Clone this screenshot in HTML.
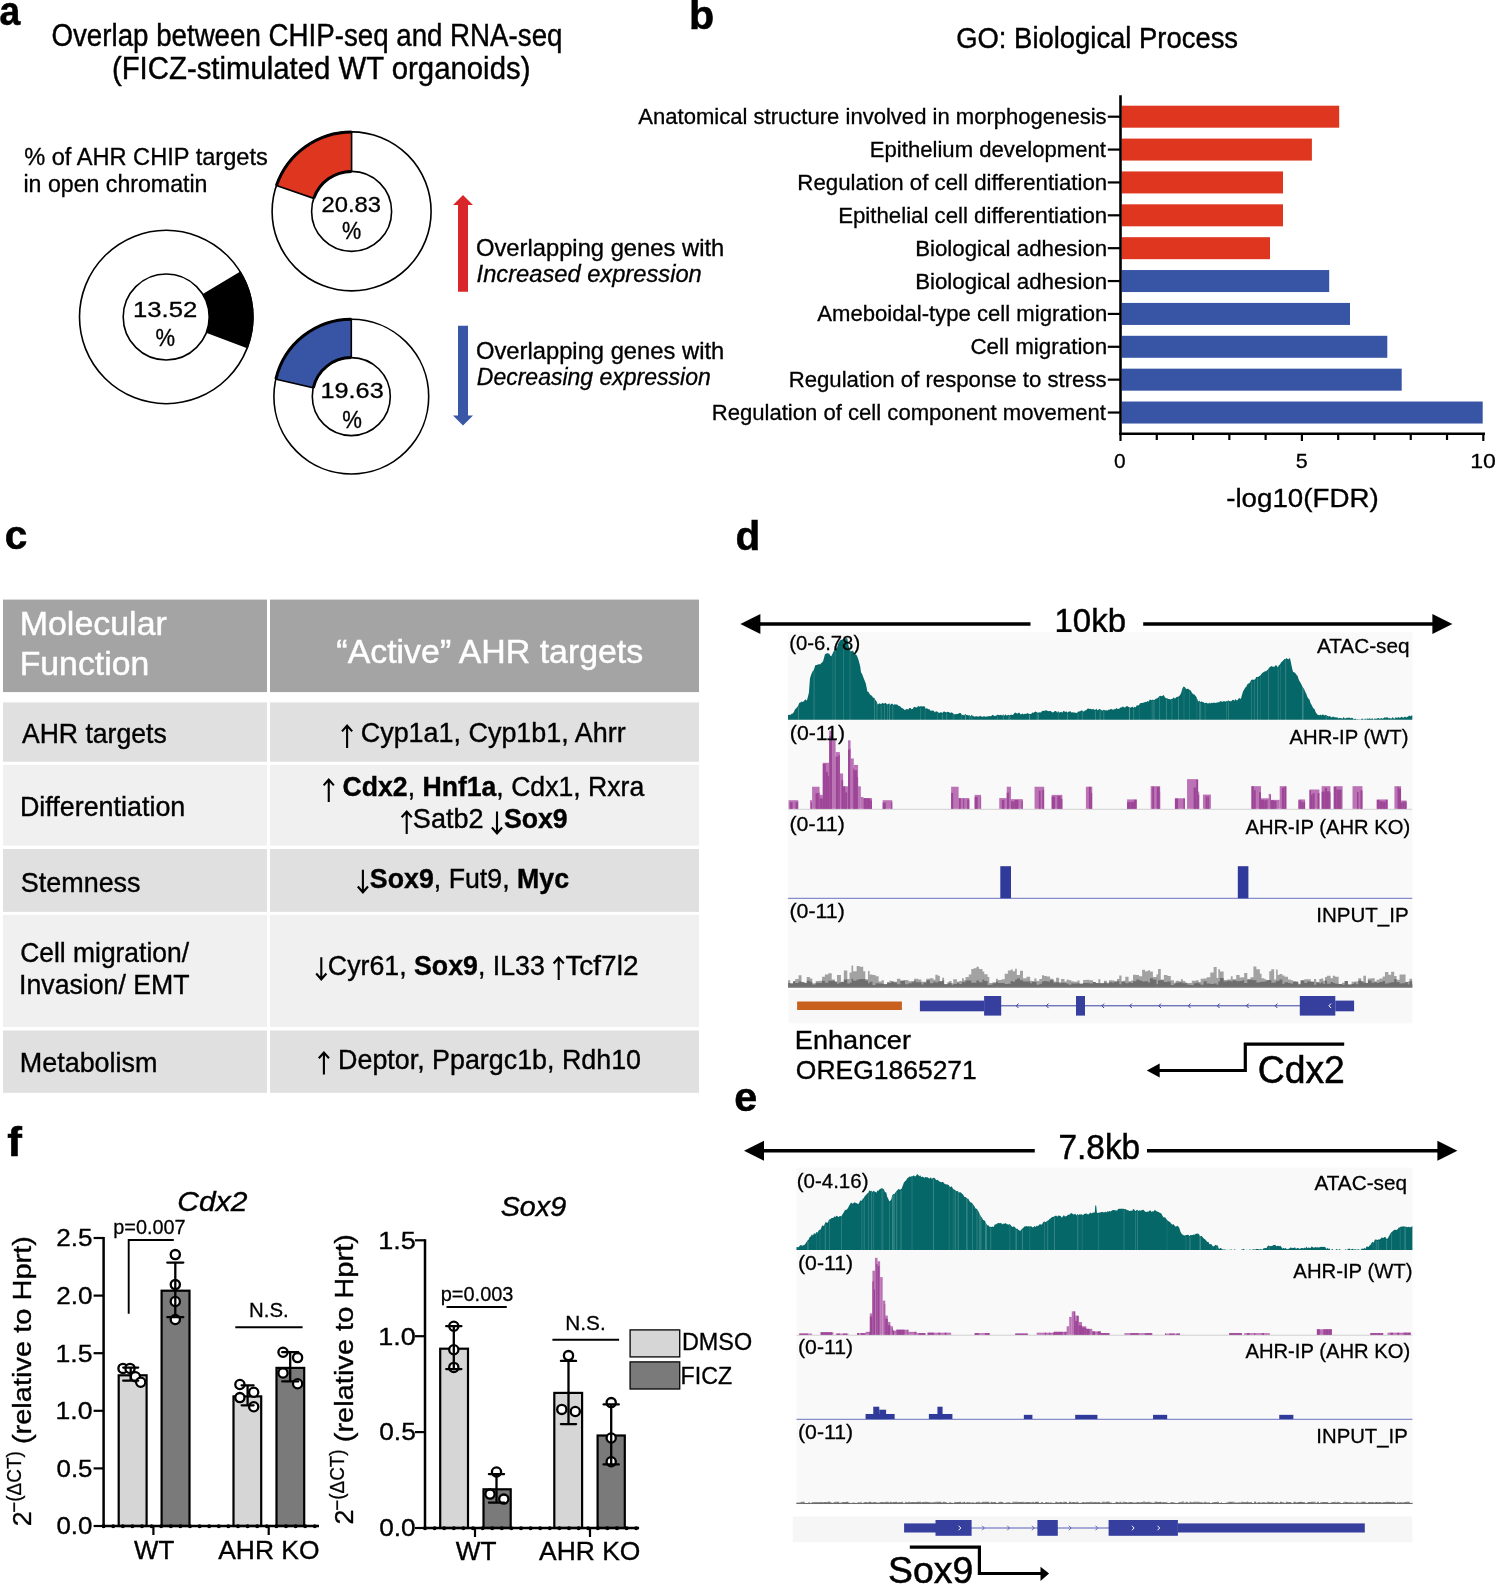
<!DOCTYPE html>
<html><head><meta charset="utf-8"><title>Figure</title>
<style>html,body{margin:0;padding:0;background:#fff;}svg{display:block;font-family:"Liberation Sans",sans-serif;will-change:transform;}</style>
</head><body>
<svg width="1496" height="1584" viewBox="0 0 1496 1584"><text x="-0.39" y="25.40" font-size="40.00" fill="#000" stroke="#000" stroke-width="0.56" textLength="20.76" lengthAdjust="spacingAndGlyphs"><tspan font-weight="bold">a</tspan></text>
<text x="51.49" y="45.90" font-size="30.80" fill="#000" stroke="#000" stroke-width="0.43" textLength="510.98" lengthAdjust="spacingAndGlyphs"><tspan>Overlap between CHIP-seq and RNA-seq</tspan></text>
<text x="111.93" y="78.90" font-size="30.80" fill="#000" stroke="#000" stroke-width="0.43" textLength="418.48" lengthAdjust="spacingAndGlyphs"><tspan>(FICZ-stimulated WT organoids)</tspan></text>
<text x="24.16" y="165.00" font-size="24.60" fill="#000" stroke="#000" stroke-width="0.34" textLength="243.68" lengthAdjust="spacingAndGlyphs"><tspan>% of AHR CHIP targets</tspan></text>
<text x="23.45" y="191.70" font-size="24.60" fill="#000" stroke="#000" stroke-width="0.34" textLength="184.05" lengthAdjust="spacingAndGlyphs"><tspan>in open chromatin</tspan></text>
<circle cx="166.20" cy="317.00" r="86.70" fill="#fff" stroke="#000" stroke-width="1.6"/><path d="M240.52 272.35 A86.70 86.70 0 0 1 247.41 347.36 L206.48 332.06 A43.00 43.00 0 0 0 203.06 294.85 Z" fill="#000" stroke="#000" stroke-width="1.60" stroke-linejoin="miter"/><circle cx="166.20" cy="317.00" r="43.00" fill="#fff" stroke="#000" stroke-width="1.6"/>
<circle cx="351.60" cy="211.40" r="79.50" fill="#fff" stroke="#000" stroke-width="1.6"/><path d="M276.43 185.52 A79.50 79.50 0 0 1 351.60 131.90 L351.60 171.40 A40.00 40.00 0 0 0 313.78 198.38 Z" fill="#df3620" stroke="#000" stroke-width="1.60" stroke-linejoin="miter"/><circle cx="351.60" cy="211.40" r="40.00" fill="#fff" stroke="#000" stroke-width="1.6"/><path d="M276.43 185.52 A79.50 79.50 0 0 1 351.60 131.90" fill="none" stroke="#000" stroke-width="3.00"/><path d="M313.78 198.38 A40.00 40.00 0 0 1 351.60 171.40" fill="none" stroke="#000" stroke-width="3.00"/>
<circle cx="351.30" cy="396.60" r="77.40" fill="#fff" stroke="#000" stroke-width="1.6"/><path d="M275.88 379.19 A77.40 77.40 0 0 1 351.30 319.20 L351.30 357.60 A39.00 39.00 0 0 0 313.30 387.83 Z" fill="#3754a5" stroke="#000" stroke-width="1.60" stroke-linejoin="miter"/><circle cx="351.30" cy="396.60" r="39.00" fill="#fff" stroke="#000" stroke-width="1.6"/><path d="M275.88 379.19 A77.40 77.40 0 0 1 351.30 319.20" fill="none" stroke="#000" stroke-width="3.00"/><path d="M313.30 387.83 A39.00 39.00 0 0 1 351.30 357.60" fill="none" stroke="#000" stroke-width="3.00"/>
<text x="133.04" y="317.00" font-size="22.00" fill="#000" stroke="#000" stroke-width="0.31" textLength="64.25" lengthAdjust="spacingAndGlyphs"><tspan>13.52</tspan></text>
<text x="155.47" y="346.20" font-size="24.50" fill="#000" stroke="#000" stroke-width="0.34" textLength="19.57" lengthAdjust="spacingAndGlyphs"><tspan>%</tspan></text>
<text x="321.55" y="212.20" font-size="22.00" fill="#000" stroke="#000" stroke-width="0.31" textLength="59.49" lengthAdjust="spacingAndGlyphs"><tspan>20.83</tspan></text>
<text x="341.93" y="238.70" font-size="24.50" fill="#000" stroke="#000" stroke-width="0.34" textLength="19.24" lengthAdjust="spacingAndGlyphs"><tspan>%</tspan></text>
<text x="320.48" y="398.30" font-size="22.00" fill="#000" stroke="#000" stroke-width="0.31" textLength="63.24" lengthAdjust="spacingAndGlyphs"><tspan>19.63</tspan></text>
<text x="342.31" y="427.50" font-size="24.50" fill="#000" stroke="#000" stroke-width="0.34" textLength="19.68" lengthAdjust="spacingAndGlyphs"><tspan>%</tspan></text>
<path d="M458 291.7 V205 H453 L463 195 L473 205 H468 V291.7 Z" fill="#d8262b"/>
<path d="M458 325.8 V415.6 H453 L463 425.6 L473 415.6 H468 V325.8 Z" fill="#3a56a6"/>
<text x="475.97" y="255.50" font-size="23.70" fill="#000" stroke="#000" stroke-width="0.33" textLength="248.27" lengthAdjust="spacingAndGlyphs"><tspan>Overlapping genes with</tspan></text>
<text x="476.56" y="281.80" font-size="23.70" fill="#000" stroke="#000" stroke-width="0.33" textLength="225.21" lengthAdjust="spacingAndGlyphs"><tspan font-style="italic">Increased expression</tspan></text>
<text x="475.97" y="358.50" font-size="23.70" fill="#000" stroke="#000" stroke-width="0.33" textLength="248.27" lengthAdjust="spacingAndGlyphs"><tspan>Overlapping genes with</tspan></text>
<text x="476.79" y="385.20" font-size="23.70" fill="#000" stroke="#000" stroke-width="0.33" textLength="233.95" lengthAdjust="spacingAndGlyphs"><tspan font-style="italic">Decreasing expression</tspan></text>
<text x="688.98" y="28.70" font-size="40.00" fill="#000" stroke="#000" stroke-width="0.56" textLength="25.21" lengthAdjust="spacingAndGlyphs"><tspan font-weight="bold">b</tspan></text>
<text x="956.22" y="48.20" font-size="29.80" fill="#000" stroke="#000" stroke-width="0.42" textLength="281.87" lengthAdjust="spacingAndGlyphs"><tspan>GO: Biological Process</tspan></text>
<rect x="1121.70" y="105.70" width="217.50" height="22" fill="#df3620"/>
<line x1="1107.8" y1="116.70" x2="1120.50" y2="116.70" stroke="#000" stroke-width="2.2"/>
<text x="638.36" y="124.20" font-size="21.60" fill="#000" stroke="#000" stroke-width="0.30" textLength="468.24" lengthAdjust="spacingAndGlyphs"><tspan>Anatomical structure involved in morphogenesis</tspan></text>
<rect x="1121.70" y="138.57" width="190.20" height="22" fill="#df3620"/>
<line x1="1107.8" y1="149.57" x2="1120.50" y2="149.57" stroke="#000" stroke-width="2.2"/>
<text x="869.78" y="157.07" font-size="21.60" fill="#000" stroke="#000" stroke-width="0.30" textLength="236.18" lengthAdjust="spacingAndGlyphs"><tspan>Epithelium development</tspan></text>
<rect x="1121.70" y="171.44" width="161.30" height="22" fill="#df3620"/>
<line x1="1107.8" y1="182.44" x2="1120.50" y2="182.44" stroke="#000" stroke-width="2.2"/>
<text x="797.38" y="189.94" font-size="21.60" fill="#000" stroke="#000" stroke-width="0.30" textLength="309.86" lengthAdjust="spacingAndGlyphs"><tspan>Regulation of cell differentiation</tspan></text>
<rect x="1121.70" y="204.31" width="161.30" height="22" fill="#df3620"/>
<line x1="1107.8" y1="215.31" x2="1120.50" y2="215.31" stroke="#000" stroke-width="2.2"/>
<text x="838.18" y="222.81" font-size="21.60" fill="#000" stroke="#000" stroke-width="0.30" textLength="269.06" lengthAdjust="spacingAndGlyphs"><tspan>Epithelial cell differentiation</tspan></text>
<rect x="1121.70" y="237.18" width="148.30" height="22" fill="#df3620"/>
<line x1="1107.8" y1="248.18" x2="1120.50" y2="248.18" stroke="#000" stroke-width="2.2"/>
<text x="915.17" y="255.68" font-size="21.60" fill="#000" stroke="#000" stroke-width="0.30" textLength="192.08" lengthAdjust="spacingAndGlyphs"><tspan>Biological adhesion</tspan></text>
<rect x="1121.70" y="270.05" width="207.50" height="22" fill="#3754a5"/>
<line x1="1107.8" y1="281.05" x2="1120.50" y2="281.05" stroke="#000" stroke-width="2.2"/>
<text x="915.17" y="288.55" font-size="21.60" fill="#000" stroke="#000" stroke-width="0.30" textLength="192.08" lengthAdjust="spacingAndGlyphs"><tspan>Biological adhesion</tspan></text>
<rect x="1121.70" y="302.92" width="228.30" height="22" fill="#3754a5"/>
<line x1="1107.8" y1="313.92" x2="1120.50" y2="313.92" stroke="#000" stroke-width="2.2"/>
<text x="817.26" y="321.42" font-size="21.60" fill="#000" stroke="#000" stroke-width="0.30" textLength="289.98" lengthAdjust="spacingAndGlyphs"><tspan>Ameboidal-type cell migration</tspan></text>
<rect x="1121.70" y="335.79" width="265.60" height="22" fill="#3754a5"/>
<line x1="1107.8" y1="346.79" x2="1120.50" y2="346.79" stroke="#000" stroke-width="2.2"/>
<text x="970.46" y="354.29" font-size="21.60" fill="#000" stroke="#000" stroke-width="0.30" textLength="136.79" lengthAdjust="spacingAndGlyphs"><tspan>Cell migration</tspan></text>
<rect x="1121.70" y="368.66" width="280.00" height="22" fill="#3754a5"/>
<line x1="1107.8" y1="379.66" x2="1120.50" y2="379.66" stroke="#000" stroke-width="2.2"/>
<text x="788.68" y="387.16" font-size="21.60" fill="#000" stroke="#000" stroke-width="0.30" textLength="317.92" lengthAdjust="spacingAndGlyphs"><tspan>Regulation of response to stress</tspan></text>
<rect x="1121.70" y="401.53" width="361.00" height="22" fill="#3754a5"/>
<line x1="1107.8" y1="412.53" x2="1120.50" y2="412.53" stroke="#000" stroke-width="2.2"/>
<text x="711.69" y="420.03" font-size="21.60" fill="#000" stroke="#000" stroke-width="0.30" textLength="394.27" lengthAdjust="spacingAndGlyphs"><tspan>Regulation of cell component movement</tspan></text>
<line x1="1120.50" y1="95.3" x2="1120.50" y2="435" stroke="#000" stroke-width="2.6"/>
<line x1="1119.20" y1="433.8" x2="1485" y2="433.8" stroke="#000" stroke-width="2.6"/>
<line x1="1120.50" y1="433.8" x2="1120.50" y2="441.00" stroke="#000" stroke-width="2.2"/>
<line x1="1156.78" y1="433.8" x2="1156.78" y2="440.00" stroke="#000" stroke-width="2.2"/>
<line x1="1193.06" y1="433.8" x2="1193.06" y2="440.00" stroke="#000" stroke-width="2.2"/>
<line x1="1229.34" y1="433.8" x2="1229.34" y2="440.00" stroke="#000" stroke-width="2.2"/>
<line x1="1265.62" y1="433.8" x2="1265.62" y2="440.00" stroke="#000" stroke-width="2.2"/>
<line x1="1301.90" y1="433.8" x2="1301.90" y2="441.00" stroke="#000" stroke-width="2.2"/>
<line x1="1338.18" y1="433.8" x2="1338.18" y2="440.00" stroke="#000" stroke-width="2.2"/>
<line x1="1374.46" y1="433.8" x2="1374.46" y2="440.00" stroke="#000" stroke-width="2.2"/>
<line x1="1410.74" y1="433.8" x2="1410.74" y2="440.00" stroke="#000" stroke-width="2.2"/>
<line x1="1447.02" y1="433.8" x2="1447.02" y2="440.00" stroke="#000" stroke-width="2.2"/>
<line x1="1483.30" y1="433.8" x2="1483.30" y2="441.00" stroke="#000" stroke-width="2.2"/>
<text x="1113.98" y="467.50" font-size="21.00" fill="#000" stroke="#000" stroke-width="0.29" textLength="11.63" lengthAdjust="spacingAndGlyphs"><tspan>0</tspan></text>
<text x="1295.74" y="467.50" font-size="21.00" fill="#000" stroke="#000" stroke-width="0.29" textLength="11.96" lengthAdjust="spacingAndGlyphs"><tspan>5</tspan></text>
<text x="1470.24" y="467.50" font-size="21.00" fill="#000" stroke="#000" stroke-width="0.29" textLength="25.66" lengthAdjust="spacingAndGlyphs"><tspan>10</tspan></text>
<text x="1226.17" y="507.20" font-size="25.20" fill="#000" stroke="#000" stroke-width="0.35" textLength="152.55" lengthAdjust="spacingAndGlyphs"><tspan>-log10(FDR)</tspan></text>
<text x="4.71" y="549.30" font-size="40.00" fill="#000" stroke="#000" stroke-width="0.56" textLength="22.57" lengthAdjust="spacingAndGlyphs"><tspan font-weight="bold">c</tspan></text>
<rect x="3" y="599.60" width="264" height="92.50" fill="#a4a4a4"/>
<rect x="270" y="599.60" width="429" height="92.50" fill="#a4a4a4"/>
<rect x="3" y="702.40" width="264" height="59.40" fill="#e0e0e0"/>
<rect x="270" y="702.40" width="429" height="59.40" fill="#e0e0e0"/>
<rect x="3" y="764.90" width="264" height="80.70" fill="#f0f0f0"/>
<rect x="270" y="764.90" width="429" height="80.70" fill="#f0f0f0"/>
<rect x="3" y="849.00" width="264" height="62.90" fill="#e0e0e0"/>
<rect x="270" y="849.00" width="429" height="62.90" fill="#e0e0e0"/>
<rect x="3" y="914.90" width="264" height="112.00" fill="#f0f0f0"/>
<rect x="270" y="914.90" width="429" height="112.00" fill="#f0f0f0"/>
<rect x="3" y="1030.50" width="264" height="62.30" fill="#e0e0e0"/>
<rect x="270" y="1030.50" width="429" height="62.30" fill="#e0e0e0"/>
<text x="19.72" y="635.00" font-size="33.00" fill="#fff" stroke="#fff" stroke-width="0.46" textLength="147.10" lengthAdjust="spacingAndGlyphs"><tspan>Molecular</tspan></text>
<text x="19.73" y="675.40" font-size="33.00" fill="#fff" stroke="#fff" stroke-width="0.46" textLength="129.46" lengthAdjust="spacingAndGlyphs"><tspan>Function</tspan></text>
<text x="336.37" y="662.90" font-size="33.00" fill="#fff" stroke="#fff" stroke-width="0.46" textLength="306.85" lengthAdjust="spacingAndGlyphs"><tspan>“Active” AHR targets</tspan></text>
<text x="21.95" y="742.50" font-size="27.80" fill="#000" stroke="#000" stroke-width="0.39" textLength="144.76" lengthAdjust="spacingAndGlyphs"><tspan>AHR targets</tspan></text>
<text x="19.90" y="816.30" font-size="27.80" fill="#000" stroke="#000" stroke-width="0.39" textLength="165.44" lengthAdjust="spacingAndGlyphs"><tspan>Differentiation</tspan></text>
<text x="20.78" y="892.00" font-size="27.80" fill="#000" stroke="#000" stroke-width="0.39" textLength="119.80" lengthAdjust="spacingAndGlyphs"><tspan>Stemness</tspan></text>
<text x="20.16" y="961.80" font-size="27.80" fill="#000" stroke="#000" stroke-width="0.39" textLength="168.84" lengthAdjust="spacingAndGlyphs"><tspan>Cell migration/</tspan></text>
<text x="19.04" y="994.00" font-size="27.80" fill="#000" stroke="#000" stroke-width="0.39" textLength="170.58" lengthAdjust="spacingAndGlyphs"><tspan>Invasion/ EMT</tspan></text>
<text x="19.79" y="1072.40" font-size="27.80" fill="#000" stroke="#000" stroke-width="0.39" textLength="137.68" lengthAdjust="spacingAndGlyphs"><tspan>Metabolism</tspan></text>
<path d="M347.10 747.90 V725.80 M342.00 731.40 L347.10 725.60 L352.20 731.40" fill="none" stroke="#000" stroke-width="2.10" stroke-linejoin="miter"/>
<text x="360.74" y="742.40" font-size="27.80" fill="#000" stroke="#000" stroke-width="0.39" textLength="264.90" lengthAdjust="spacingAndGlyphs"><tspan>Cyp1a1, Cyp1b1, Ahrr</tspan></text>
<path d="M328.75 802.00 V779.80 M323.65 785.40 L328.75 779.60 L333.85 785.40" fill="none" stroke="#000" stroke-width="2.10" stroke-linejoin="miter"/>
<text x="342.61" y="796.40" font-size="27.80" fill="#000" stroke="#000" stroke-width="0.39" textLength="301.59" lengthAdjust="spacingAndGlyphs"><tspan font-weight="bold">Cdx2</tspan><tspan>, </tspan><tspan font-weight="bold">Hnf1a</tspan><tspan>, Cdx1, Rxra</tspan></text>
<path d="M406.70 834.10 V811.70 M401.60 817.30 L406.70 811.50 L411.80 817.30" fill="none" stroke="#000" stroke-width="2.10" stroke-linejoin="miter"/>
<text x="412.87" y="828.30" font-size="27.80" fill="#000" stroke="#000" stroke-width="0.39" textLength="70.69" lengthAdjust="spacingAndGlyphs"><tspan>Satb2</tspan></text>
<path d="M497.00 811.40 V833.10 M491.90 827.50 L497.00 833.30 L502.10 827.50" fill="none" stroke="#000" stroke-width="2.10" stroke-linejoin="miter"/>
<text x="503.93" y="828.30" font-size="27.80" fill="#000" stroke="#000" stroke-width="0.39" textLength="63.76" lengthAdjust="spacingAndGlyphs"><tspan font-weight="bold">Sox9</tspan></text>
<path d="M362.90 869.70 V892.10 M357.80 886.50 L362.90 892.30 L368.00 886.50" fill="none" stroke="#000" stroke-width="2.10" stroke-linejoin="miter"/>
<text x="369.83" y="887.60" font-size="27.80" fill="#000" stroke="#000" stroke-width="0.39" textLength="199.25" lengthAdjust="spacingAndGlyphs"><tspan font-weight="bold">Sox9</tspan><tspan>, Fut9, </tspan><tspan font-weight="bold">Myc</tspan></text>
<path d="M321.30 957.20 V979.10 M316.20 973.50 L321.30 979.30 L326.40 973.50" fill="none" stroke="#000" stroke-width="2.10" stroke-linejoin="miter"/>
<text x="327.84" y="974.80" font-size="27.80" fill="#000" stroke="#000" stroke-width="0.39" textLength="216.93" lengthAdjust="spacingAndGlyphs"><tspan>Cyr61, </tspan><tspan font-weight="bold">Sox9</tspan><tspan>, IL33</tspan></text>
<path d="M558.70 980.10 V957.90 M553.60 963.50 L558.70 957.70 L563.80 963.50" fill="none" stroke="#000" stroke-width="2.10" stroke-linejoin="miter"/>
<text x="565.40" y="974.80" font-size="27.80" fill="#000" stroke="#000" stroke-width="0.39" textLength="73.05" lengthAdjust="spacingAndGlyphs"><tspan>Tcf7l2</tspan></text>
<path d="M323.90 1074.60 V1052.70 M318.80 1058.30 L323.90 1052.50 L329.00 1058.30" fill="none" stroke="#000" stroke-width="2.10" stroke-linejoin="miter"/>
<text x="338.11" y="1069.10" font-size="27.80" fill="#000" stroke="#000" stroke-width="0.39" textLength="302.93" lengthAdjust="spacingAndGlyphs"><tspan>Deptor, Ppargc1b, Rdh10</tspan></text>
<text x="735.44" y="549.60" font-size="40.00" fill="#000" stroke="#000" stroke-width="0.56" textLength="24.73" lengthAdjust="spacingAndGlyphs"><tspan font-weight="bold">d</tspan></text>
<line x1="759.40" y1="624.00" x2="1030.50" y2="624.00" stroke="#000" stroke-width="3.50"/><path d="M740.40 624.00 L760.40 614.00 L760.40 634.00 Z" fill="#000"/>
<line x1="1143.20" y1="624.00" x2="1433.40" y2="624.00" stroke="#000" stroke-width="3.50"/><path d="M1452.40 624.00 L1432.40 614.00 L1432.40 634.00 Z" fill="#000"/>
<text x="1054.49" y="632.00" font-size="33.80" fill="#000" stroke="#000" stroke-width="0.47" textLength="71.50" lengthAdjust="spacingAndGlyphs"><tspan>10kb</tspan></text>
<rect x="788.1" y="632.2" width="624.2" height="355" fill="#f9f9f9"/>
<path d="M788.00 719.80 L788.00 714.90 L789.20 714.72 L790.40 715.05 L791.60 713.73 L792.80 713.42 L793.87 711.97 L794.93 709.57 L796.00 708.62 L797.07 707.26 L798.13 705.99 L799.20 702.99 L800.40 702.61 L801.60 701.38 L802.80 702.02 L804.00 700.99 L805.40 699.28 L806.80 700.76 L807.85 697.08 L808.90 692.81 L810.00 678.33 L811.30 674.21 L812.50 671.53 L813.70 670.16 L815.30 665.22 L816.50 665.08 L817.70 664.78 L818.90 663.96 L820.10 664.43 L821.17 663.05 L822.23 662.52 L823.30 660.54 L824.90 654.38 L826.10 653.50 L827.30 653.22 L828.30 653.41 L829.30 653.66 L830.30 655.70 L831.30 656.29 L832.50 653.78 L833.70 651.32 L834.77 649.70 L835.83 648.69 L836.90 647.98 L838.10 643.94 L839.30 641.73 L840.90 639.40 L841.97 640.03 L843.03 638.84 L844.10 639.72 L845.17 639.63 L846.23 638.07 L847.30 638.62 L848.50 645.42 L849.70 649.94 L850.95 651.41 L852.20 650.69 L853.20 651.05 L854.20 653.16 L855.20 654.46 L856.20 654.44 L857.40 656.87 L858.60 660.17 L860.20 666.23 L861.00 672.22 L862.20 674.14 L863.40 677.59 L864.60 680.50 L865.80 683.62 L867.40 691.49 L868.60 691.91 L869.80 694.32 L870.87 695.16 L871.93 695.71 L873.00 697.86 L874.20 697.86 L875.40 700.09 L876.60 701.43 L877.80 704.44 L878.80 703.63 L879.80 703.34 L880.80 704.34 L881.80 703.61 L882.87 702.74 L883.93 704.04 L885.00 702.82 L886.07 703.32 L887.13 704.38 L888.20 704.08 L889.28 703.13 L890.37 705.05 L891.45 703.63 L892.53 703.85 L893.62 705.01 L894.70 704.26 L895.76 704.57 L896.82 704.51 L897.88 704.92 L898.94 706.29 L900.00 705.99 L901.30 707.67 L902.60 708.18 L903.90 709.31 L905.00 710.19 L906.10 709.11 L907.20 709.16 L908.30 709.62 L909.40 708.12 L910.50 707.94 L911.60 709.32 L912.70 708.77 L913.80 707.27 L914.90 706.79 L916.00 707.53 L917.10 707.57 L918.20 705.72 L919.30 706.86 L920.40 706.36 L921.49 706.28 L922.58 706.39 L923.66 706.23 L924.75 706.58 L925.84 708.90 L926.92 707.93 L928.01 709.33 L929.10 708.91 L930.26 710.57 L931.42 710.63 L932.58 710.55 L933.74 710.83 L934.90 712.44 L935.95 711.19 L936.99 711.56 L938.04 712.28 L939.08 712.92 L940.13 712.50 L941.18 711.88 L942.22 713.21 L943.27 711.84 L944.32 711.52 L945.36 712.08 L946.41 712.48 L947.45 711.77 L948.50 712.05 L949.54 712.56 L950.58 713.09 L951.62 712.33 L952.65 712.92 L953.69 714.10 L954.73 714.40 L955.77 713.88 L956.81 714.07 L957.85 713.98 L958.88 713.21 L959.92 713.12 L960.96 713.21 L962.00 715.12 L963.06 714.84 L964.13 715.50 L965.19 713.75 L966.25 715.12 L967.32 714.95 L968.38 715.58 L969.45 714.89 L970.51 716.39 L971.57 714.68 L972.64 715.76 L973.70 716.27 L974.73 716.63 L975.77 716.33 L976.80 716.29 L977.83 716.49 L978.87 716.76 L979.90 715.66 L980.93 716.36 L981.97 716.82 L983.00 716.78 L984.03 715.90 L985.07 716.67 L986.10 716.85 L987.13 716.29 L988.17 716.42 L989.20 715.96 L990.30 716.15 L991.40 715.99 L992.50 714.72 L993.60 715.62 L994.70 716.12 L995.80 715.67 L996.90 715.16 L997.95 714.54 L999.01 715.30 L1000.06 715.05 L1001.12 714.84 L1002.17 715.69 L1003.23 714.25 L1004.28 715.65 L1005.34 714.27 L1006.39 715.48 L1007.45 715.30 L1008.50 714.86 L1009.61 715.50 L1010.73 714.79 L1011.84 714.73 L1012.96 715.04 L1014.07 713.41 L1015.19 712.62 L1016.30 712.90 L1017.38 713.72 L1018.46 712.84 L1019.53 712.84 L1020.61 714.38 L1021.69 713.95 L1022.77 713.58 L1023.84 714.55 L1024.92 713.49 L1026.00 714.23 L1027.08 713.12 L1028.16 713.41 L1029.23 713.98 L1030.31 714.02 L1031.39 713.77 L1032.47 712.60 L1033.54 712.82 L1034.62 712.11 L1035.70 711.57 L1036.75 712.16 L1037.81 712.70 L1038.86 712.59 L1039.92 712.18 L1040.97 712.52 L1042.03 711.04 L1043.08 710.68 L1044.14 711.11 L1045.19 710.62 L1046.25 710.36 L1047.30 710.63 L1048.41 711.21 L1049.53 711.10 L1050.64 710.90 L1051.76 712.11 L1052.87 712.55 L1053.99 711.65 L1055.10 711.05 L1056.12 710.98 L1057.14 712.69 L1058.16 711.05 L1059.18 712.40 L1060.21 712.15 L1061.23 711.64 L1062.25 712.63 L1063.27 711.11 L1064.29 711.36 L1065.31 712.02 L1066.33 711.18 L1067.35 712.81 L1068.37 711.65 L1069.39 711.48 L1070.42 711.31 L1071.44 712.50 L1072.46 712.15 L1073.48 712.54 L1074.50 712.61 L1075.55 712.78 L1076.61 712.94 L1077.66 712.26 L1078.72 711.15 L1079.77 711.57 L1080.83 710.84 L1081.88 710.37 L1082.94 711.15 L1083.99 711.50 L1085.05 710.29 L1086.10 710.34 L1088.00 708.19 L1089.03 708.99 L1090.07 708.74 L1091.10 709.03 L1092.13 709.41 L1093.17 708.79 L1094.20 709.68 L1095.23 710.01 L1096.27 708.47 L1097.30 710.27 L1098.33 709.94 L1099.37 708.86 L1100.40 709.61 L1101.43 710.05 L1102.47 710.72 L1103.50 709.75 L1104.56 710.03 L1105.63 710.54 L1106.69 710.27 L1107.75 710.45 L1108.82 709.38 L1109.88 709.65 L1110.95 708.65 L1112.01 709.57 L1113.07 709.65 L1114.14 709.19 L1115.20 709.24 L1116.30 707.90 L1117.40 708.94 L1118.50 708.78 L1119.60 708.44 L1120.70 707.23 L1121.80 707.41 L1122.90 706.14 L1123.95 707.41 L1125.01 707.39 L1126.06 706.47 L1127.12 706.03 L1128.17 706.84 L1129.23 707.15 L1130.28 707.67 L1131.34 707.20 L1132.39 706.38 L1133.45 708.03 L1134.50 706.63 L1135.58 707.46 L1136.66 705.56 L1137.73 705.24 L1138.81 705.50 L1139.89 703.56 L1140.97 702.93 L1142.04 703.02 L1143.12 702.79 L1144.20 702.38 L1145.28 701.86 L1146.36 702.15 L1147.43 701.02 L1148.51 701.71 L1149.59 699.76 L1150.67 699.81 L1151.74 700.20 L1152.82 699.50 L1153.90 700.16 L1154.99 699.38 L1156.08 698.55 L1157.16 698.59 L1158.25 697.42 L1159.34 696.32 L1160.42 695.86 L1161.51 696.19 L1162.60 695.70 L1163.73 695.12 L1164.87 697.20 L1166.00 698.24 L1167.13 698.15 L1168.27 699.05 L1169.40 699.10 L1170.50 699.41 L1171.60 698.97 L1172.70 698.81 L1173.80 697.29 L1174.90 698.81 L1176.00 697.53 L1177.00 696.75 L1178.00 697.00 L1179.00 695.98 L1180.00 695.28 L1181.20 692.75 L1182.40 688.57 L1183.60 686.58 L1184.70 686.93 L1185.80 688.61 L1186.90 689.15 L1188.00 688.44 L1189.07 689.78 L1190.13 690.02 L1191.20 691.57 L1192.27 693.26 L1193.33 694.37 L1194.40 694.45 L1195.40 695.73 L1196.40 697.08 L1197.40 699.54 L1198.40 701.75 L1199.43 700.56 L1200.45 702.26 L1201.47 701.15 L1202.50 701.89 L1203.62 702.13 L1204.74 703.23 L1205.86 702.68 L1206.98 702.93 L1208.10 703.64 L1209.10 702.56 L1210.10 703.76 L1211.10 702.50 L1212.10 703.22 L1213.10 702.65 L1214.10 702.50 L1215.10 703.11 L1216.10 702.87 L1217.10 702.50 L1218.10 702.33 L1219.10 702.31 L1220.10 701.32 L1221.10 701.16 L1222.10 701.76 L1223.10 701.53 L1224.10 701.06 L1225.13 701.63 L1226.16 701.08 L1227.19 701.50 L1228.21 700.18 L1229.24 701.12 L1230.27 701.19 L1231.30 701.31 L1232.37 699.91 L1233.43 699.69 L1234.50 700.68 L1235.57 699.05 L1236.63 700.39 L1237.70 699.94 L1238.77 698.21 L1239.83 698.20 L1240.90 698.95 L1242.00 694.82 L1243.10 691.29 L1244.20 689.56 L1245.27 687.41 L1246.33 686.81 L1247.40 684.15 L1248.60 683.51 L1249.80 682.87 L1251.00 680.34 L1252.20 679.50 L1253.20 679.86 L1254.20 679.72 L1255.20 679.24 L1256.20 676.93 L1257.20 677.11 L1258.20 677.02 L1259.20 675.91 L1260.20 675.67 L1261.40 673.88 L1262.60 672.84 L1263.80 672.11 L1265.00 671.17 L1266.03 671.29 L1267.06 670.30 L1268.09 669.49 L1269.11 667.74 L1270.14 666.90 L1271.17 666.02 L1272.20 666.38 L1273.32 666.84 L1274.44 666.87 L1275.56 665.37 L1276.68 665.46 L1277.80 667.40 L1278.88 665.21 L1279.97 664.60 L1281.05 662.50 L1282.13 661.57 L1283.22 660.45 L1284.30 659.06 L1285.42 659.24 L1286.54 657.91 L1287.66 659.12 L1288.78 659.25 L1289.90 657.76 L1290.97 662.87 L1292.03 668.01 L1293.10 671.91 L1294.17 672.29 L1295.23 673.03 L1296.30 674.53 L1297.60 675.90 L1298.90 680.02 L1300.20 682.20 L1301.20 683.99 L1302.20 686.28 L1303.20 687.80 L1304.20 689.33 L1305.20 691.70 L1306.26 693.64 L1307.31 696.72 L1308.37 698.50 L1309.43 699.53 L1310.49 702.97 L1311.54 704.76 L1312.60 706.96 L1313.60 708.61 L1314.60 709.37 L1315.60 711.93 L1316.60 713.48 L1317.60 714.69 L1318.64 715.00 L1319.67 715.17 L1320.71 714.62 L1321.75 715.42 L1322.78 714.28 L1323.82 714.99 L1324.86 715.42 L1325.89 714.67 L1326.93 715.53 L1327.97 716.26 L1329.01 716.40 L1330.04 715.79 L1331.08 717.38 L1332.12 716.99 L1333.15 716.50 L1334.19 717.31 L1335.23 717.30 L1336.26 717.40 L1337.30 717.28 L1338.33 718.57 L1339.36 717.93 L1340.39 718.12 L1341.42 718.31 L1342.45 718.81 L1343.47 716.97 L1344.50 718.23 L1345.53 718.54 L1346.56 717.65 L1347.59 718.01 L1348.62 717.38 L1349.65 717.74 L1350.68 718.17 L1351.71 717.69 L1352.74 718.06 L1353.77 719.44 L1354.80 718.80 L1355.83 718.79 L1356.85 719.78 L1357.88 719.05 L1358.91 719.80 L1359.94 719.33 L1360.97 719.75 L1362.00 718.35 L1363.03 719.35 L1364.07 719.64 L1365.10 718.17 L1366.13 719.80 L1367.17 718.31 L1368.20 718.89 L1369.23 718.25 L1370.27 718.86 L1371.30 719.05 L1372.33 717.90 L1373.37 719.63 L1374.40 718.54 L1375.43 718.71 L1376.47 718.81 L1377.50 718.31 L1378.53 718.10 L1379.57 718.80 L1380.60 718.57 L1381.63 717.98 L1382.67 718.80 L1383.70 717.92 L1384.73 717.31 L1385.77 717.73 L1386.80 717.29 L1387.82 717.44 L1388.83 718.57 L1389.85 717.77 L1390.86 718.72 L1391.88 718.35 L1392.89 716.88 L1393.91 718.69 L1394.92 718.54 L1395.94 716.72 L1396.95 718.32 L1397.97 717.30 L1398.98 717.32 L1400.00 718.25 L1401.03 716.66 L1402.05 717.10 L1403.08 717.80 L1404.10 717.25 L1405.12 716.61 L1406.15 717.51 L1407.17 717.06 L1408.20 716.51 L1409.22 715.41 L1410.25 716.30 L1411.27 715.84 L1412.30 715.21 L1412.30 719.80 Z" fill="#056767"/><rect x="849.70" y="650.94" width="0.7" height="68.86" fill="#ffffff" fill-opacity="0.19"/><rect x="965.19" y="714.75" width="0.7" height="5.05" fill="#ffffff" fill-opacity="0.14"/><rect x="1279.97" y="665.60" width="0.7" height="54.20" fill="#ffffff" fill-opacity="0.15"/><rect x="1251.00" y="681.34" width="0.7" height="38.46" fill="#ffffff" fill-opacity="0.21"/><rect x="1081.88" y="711.37" width="0.7" height="8.43" fill="#ffffff" fill-opacity="0.25"/><rect x="1254.20" y="680.72" width="0.7" height="39.08" fill="#ffffff" fill-opacity="0.19"/><rect x="946.41" y="713.48" width="0.7" height="6.32" fill="#ffffff" fill-opacity="0.31"/><rect x="936.99" y="712.56" width="0.7" height="7.24" fill="#ffffff" fill-opacity="0.17"/><rect x="920.40" y="707.36" width="0.7" height="12.44" fill="#ffffff" fill-opacity="0.22"/><rect x="1133.45" y="709.03" width="0.7" height="10.77" fill="#ffffff" fill-opacity="0.28"/><rect x="1189.07" y="690.78" width="0.7" height="29.02" fill="#ffffff" fill-opacity="0.17"/><rect x="1003.23" y="715.25" width="0.7" height="4.55" fill="#ffffff" fill-opacity="0.25"/><rect x="1058.16" y="712.05" width="0.7" height="7.75" fill="#ffffff" fill-opacity="0.16"/><rect x="1067.35" y="713.81" width="0.7" height="5.99" fill="#ffffff" fill-opacity="0.22"/><rect x="1009.61" y="716.50" width="0.7" height="3.30" fill="#ffffff" fill-opacity="0.30"/><rect x="834.77" y="650.70" width="0.7" height="69.10" fill="#ffffff" fill-opacity="0.25"/><rect x="798.13" y="706.99" width="0.7" height="12.81" fill="#ffffff" fill-opacity="0.17"/><rect x="1260.20" y="676.67" width="0.7" height="43.13" fill="#ffffff" fill-opacity="0.13"/><rect x="832.50" y="654.78" width="0.7" height="65.02" fill="#ffffff" fill-opacity="0.14"/><rect x="1099.37" y="709.86" width="0.7" height="9.94" fill="#ffffff" fill-opacity="0.13"/><rect x="889.28" y="704.13" width="0.7" height="15.67" fill="#ffffff" fill-opacity="0.30"/><rect x="971.57" y="715.68" width="0.7" height="4.12" fill="#ffffff" fill-opacity="0.23"/><rect x="1204.74" y="704.23" width="0.7" height="15.57" fill="#ffffff" fill-opacity="0.22"/><rect x="1183.60" y="687.58" width="0.7" height="32.22" fill="#ffffff" fill-opacity="0.16"/><rect x="1171.60" y="699.97" width="0.7" height="19.83" fill="#ffffff" fill-opacity="0.22"/><rect x="942.22" y="714.21" width="0.7" height="5.59" fill="#ffffff" fill-opacity="0.29"/><rect x="876.60" y="702.43" width="0.7" height="17.37" fill="#ffffff" fill-opacity="0.28"/><rect x="1285.42" y="660.24" width="0.7" height="59.56" fill="#ffffff" fill-opacity="0.28"/><rect x="1029.23" y="714.98" width="0.7" height="4.82" fill="#ffffff" fill-opacity="0.21"/><rect x="1077.66" y="713.26" width="0.7" height="6.54" fill="#ffffff" fill-opacity="0.20"/><rect x="960.96" y="714.21" width="0.7" height="5.59" fill="#ffffff" fill-opacity="0.19"/><rect x="1151.74" y="701.20" width="0.7" height="18.60" fill="#ffffff" fill-opacity="0.18"/><rect x="996.90" y="716.16" width="0.7" height="3.64" fill="#ffffff" fill-opacity="0.21"/><rect x="1200.45" y="703.26" width="0.7" height="16.54" fill="#ffffff" fill-opacity="0.24"/><rect x="1302.20" y="687.28" width="0.7" height="32.52" fill="#ffffff" fill-opacity="0.30"/><rect x="880.80" y="705.34" width="0.7" height="14.46" fill="#ffffff" fill-opacity="0.23"/><rect x="1268.09" y="670.49" width="0.7" height="49.31" fill="#ffffff" fill-opacity="0.23"/><rect x="1325.89" y="715.67" width="0.7" height="4.13" fill="#ffffff" fill-opacity="0.28"/><rect x="1303.20" y="688.80" width="0.7" height="31.00" fill="#ffffff" fill-opacity="0.18"/><rect x="798.13" y="706.99" width="0.7" height="12.81" fill="#ffffff" fill-opacity="0.14"/><rect x="1029.23" y="714.98" width="0.7" height="4.82" fill="#ffffff" fill-opacity="0.30"/><rect x="883.93" y="705.04" width="0.7" height="14.76" fill="#ffffff" fill-opacity="0.26"/><rect x="1153.90" y="701.16" width="0.7" height="18.64" fill="#ffffff" fill-opacity="0.18"/><rect x="952.65" y="713.92" width="0.7" height="5.88" fill="#ffffff" fill-opacity="0.16"/><rect x="1152.82" y="700.50" width="0.7" height="19.30" fill="#ffffff" fill-opacity="0.19"/><rect x="924.75" y="707.58" width="0.7" height="12.22" fill="#ffffff" fill-opacity="0.18"/><rect x="1277.80" y="668.40" width="0.7" height="51.40" fill="#ffffff" fill-opacity="0.23"/><rect x="1100.40" y="710.61" width="0.7" height="9.19" fill="#ffffff" fill-opacity="0.21"/><rect x="1129.23" y="708.15" width="0.7" height="11.65" fill="#ffffff" fill-opacity="0.21"/><rect x="1037.81" y="713.70" width="0.7" height="6.10" fill="#ffffff" fill-opacity="0.20"/><rect x="1067.35" y="713.81" width="0.7" height="5.99" fill="#ffffff" fill-opacity="0.14"/><rect x="1196.40" y="698.08" width="0.7" height="21.72" fill="#ffffff" fill-opacity="0.12"/><rect x="1228.21" y="701.18" width="0.7" height="18.62" fill="#ffffff" fill-opacity="0.24"/><rect x="1008.50" y="715.86" width="0.7" height="3.94" fill="#ffffff" fill-opacity="0.27"/><rect x="1199.43" y="701.56" width="0.7" height="18.24" fill="#ffffff" fill-opacity="0.28"/><rect x="965.19" y="714.75" width="0.7" height="5.05" fill="#ffffff" fill-opacity="0.29"/><rect x="892.53" y="704.85" width="0.7" height="14.95" fill="#ffffff" fill-opacity="0.27"/><rect x="1103.50" y="710.75" width="0.7" height="9.05" fill="#ffffff" fill-opacity="0.28"/><rect x="1037.81" y="713.70" width="0.7" height="6.10" fill="#ffffff" fill-opacity="0.22"/><rect x="969.45" y="715.89" width="0.7" height="3.91" fill="#ffffff" fill-opacity="0.23"/><rect x="813.70" y="671.16" width="0.7" height="48.64" fill="#ffffff" fill-opacity="0.25"/><rect x="1257.20" y="678.11" width="0.7" height="41.69" fill="#ffffff" fill-opacity="0.13"/><rect x="1129.23" y="708.15" width="0.7" height="11.65" fill="#ffffff" fill-opacity="0.28"/><rect x="887.13" y="705.38" width="0.7" height="14.42" fill="#ffffff" fill-opacity="0.19"/><rect x="1095.23" y="711.01" width="0.7" height="8.79" fill="#ffffff" fill-opacity="0.27"/><rect x="1138.81" y="706.50" width="0.7" height="13.30" fill="#ffffff" fill-opacity="0.14"/><rect x="953.69" y="715.10" width="0.7" height="4.70" fill="#ffffff" fill-opacity="0.14"/><rect x="1257.20" y="678.11" width="0.7" height="41.69" fill="#ffffff" fill-opacity="0.17"/><rect x="1036.75" y="713.16" width="0.7" height="6.64" fill="#ffffff" fill-opacity="0.22"/><rect x="1166.00" y="699.24" width="0.7" height="20.56" fill="#ffffff" fill-opacity="0.27"/><rect x="1226.16" y="702.08" width="0.7" height="17.72" fill="#ffffff" fill-opacity="0.19"/><rect x="1159.34" y="697.32" width="0.7" height="22.48" fill="#ffffff" fill-opacity="0.25"/><rect x="874.20" y="698.86" width="0.7" height="20.94" fill="#ffffff" fill-opacity="0.26"/><rect x="843.03" y="639.84" width="0.7" height="79.96" fill="#ffffff" fill-opacity="0.20"/><rect x="1178.00" y="698.00" width="0.7" height="21.80" fill="#ffffff" fill-opacity="0.29"/>
<text x="789.14" y="649.60" font-size="20.30" fill="#000" stroke="#000" stroke-width="0.28" textLength="71.02" lengthAdjust="spacingAndGlyphs"><tspan>(0-6.78)</tspan></text>
<text x="1316.96" y="652.80" font-size="20.50" fill="#000" stroke="#000" stroke-width="0.29" textLength="92.52" lengthAdjust="spacingAndGlyphs"><tspan>ATAC-seq</tspan></text>
<line x1="788.1" y1="809.3" x2="1412.3" y2="809.3" stroke="#d0d0d0" stroke-width="1"/>
<rect x="788.56" y="800.21" width="9.63" height="8.59" fill="#bb73b5"/><rect x="809.95" y="800.21" width="2.14" height="8.59" fill="#bb73b5"/><rect x="812.09" y="786.74" width="7.49" height="22.06" fill="#bb73b5"/><rect x="819.57" y="794.87" width="3.21" height="13.93" fill="#bb73b5"/><rect x="822.78" y="762.78" width="6.42" height="46.02" fill="#bb73b5"/><rect x="829.20" y="730.70" width="3.21" height="78.10" fill="#bb73b5"/><rect x="832.41" y="739.25" width="3.21" height="69.55" fill="#bb73b5"/><rect x="835.61" y="752.09" width="4.28" height="56.71" fill="#bb73b5"/><rect x="839.89" y="773.48" width="3.21" height="35.32" fill="#bb73b5"/><rect x="843.10" y="786.31" width="4.92" height="22.49" fill="#bb73b5"/><rect x="848.02" y="740.32" width="2.57" height="68.48" fill="#bb73b5"/><rect x="850.59" y="758.50" width="3.21" height="50.30" fill="#bb73b5"/><rect x="853.80" y="764.92" width="4.28" height="43.88" fill="#bb73b5"/><rect x="858.07" y="786.31" width="2.78" height="22.49" fill="#bb73b5"/><rect x="860.86" y="797.01" width="2.57" height="11.79" fill="#bb73b5"/><rect x="863.42" y="798.07" width="8.56" height="10.73" fill="#bb73b5"/><rect x="882.67" y="800.21" width="9.63" height="8.59" fill="#bb73b5"/><rect x="951.12" y="786.74" width="7.49" height="22.06" fill="#bb73b5"/><rect x="958.61" y="798.07" width="10.70" height="10.73" fill="#bb73b5"/><rect x="974.65" y="794.87" width="6.42" height="13.93" fill="#bb73b5"/><rect x="999.25" y="798.07" width="7.49" height="10.73" fill="#bb73b5"/><rect x="1006.74" y="786.74" width="4.28" height="22.06" fill="#bb73b5"/><rect x="1011.02" y="799.14" width="11.76" height="9.66" fill="#bb73b5"/><rect x="1034.55" y="786.74" width="9.63" height="22.06" fill="#bb73b5"/><rect x="1051.66" y="794.87" width="10.70" height="13.93" fill="#bb73b5"/><rect x="1085.88" y="786.74" width="6.42" height="22.06" fill="#bb73b5"/><rect x="789.97" y="802.23" width="2.59" height="6.57" fill="#9d4697"/><rect x="795.54" y="802.18" width="2.28" height="6.62" fill="#9d4697"/><rect x="797.82" y="801.28" width="0.36" height="7.52" fill="#9d4697"/><rect x="811.12" y="802.68" width="0.97" height="6.12" fill="#9d4697"/><rect x="815.58" y="793.13" width="3.19" height="15.67" fill="#9d4697"/><rect x="818.77" y="792.59" width="0.81" height="16.21" fill="#9d4697"/><rect x="819.57" y="798.40" width="3.21" height="10.40" fill="#9d4697"/><rect x="822.78" y="763.78" width="3.04" height="45.02" fill="#9d4697"/><rect x="825.82" y="771.85" width="2.13" height="36.95" fill="#9d4697"/><rect x="827.96" y="776.07" width="1.24" height="32.73" fill="#9d4697"/><rect x="829.20" y="735.84" width="3.16" height="72.96" fill="#9d4697"/><rect x="835.61" y="756.68" width="2.91" height="52.12" fill="#9d4697"/><rect x="838.52" y="755.03" width="1.31" height="53.77" fill="#9d4697"/><rect x="841.40" y="780.20" width="1.71" height="28.60" fill="#9d4697"/><rect x="843.10" y="786.34" width="2.13" height="22.46" fill="#9d4697"/><rect x="845.23" y="792.43" width="1.97" height="16.37" fill="#9d4697"/><rect x="848.02" y="749.56" width="2.24" height="59.24" fill="#9d4697"/><rect x="850.26" y="748.36" width="0.33" height="60.44" fill="#9d4697"/><rect x="852.98" y="768.34" width="0.82" height="40.46" fill="#9d4697"/><rect x="853.80" y="770.22" width="3.32" height="38.58" fill="#9d4697"/><rect x="857.11" y="777.22" width="0.96" height="31.58" fill="#9d4697"/><rect x="863.42" y="798.11" width="3.40" height="10.69" fill="#9d4697"/><rect x="866.82" y="798.45" width="3.40" height="10.35" fill="#9d4697"/><rect x="870.22" y="800.50" width="1.76" height="8.30" fill="#9d4697"/><rect x="882.67" y="802.61" width="3.19" height="6.19" fill="#9d4697"/><rect x="891.09" y="802.04" width="1.13" height="6.76" fill="#9d4697"/><rect x="951.12" y="792.90" width="2.05" height="15.90" fill="#9d4697"/><rect x="958.61" y="798.21" width="2.20" height="10.59" fill="#9d4697"/><rect x="963.12" y="798.60" width="1.07" height="10.20" fill="#9d4697"/><rect x="967.18" y="799.42" width="2.12" height="9.38" fill="#9d4697"/><rect x="974.65" y="796.81" width="3.12" height="11.99" fill="#9d4697"/><rect x="980.49" y="796.56" width="0.58" height="12.24" fill="#9d4697"/><rect x="1001.86" y="799.99" width="2.46" height="8.81" fill="#9d4697"/><rect x="1006.74" y="792.73" width="1.33" height="16.07" fill="#9d4697"/><rect x="1008.07" y="792.42" width="1.06" height="16.38" fill="#9d4697"/><rect x="1011.02" y="801.10" width="1.32" height="7.70" fill="#9d4697"/><rect x="1012.33" y="801.56" width="2.23" height="7.24" fill="#9d4697"/><rect x="1014.57" y="799.98" width="1.46" height="8.82" fill="#9d4697"/><rect x="1016.03" y="799.98" width="2.38" height="8.82" fill="#9d4697"/><rect x="1021.59" y="800.70" width="1.19" height="8.10" fill="#9d4697"/><rect x="1038.77" y="790.78" width="1.78" height="18.02" fill="#9d4697"/><rect x="1042.33" y="789.72" width="1.74" height="19.08" fill="#9d4697"/><rect x="1051.66" y="796.53" width="3.37" height="12.27" fill="#9d4697"/><rect x="1057.30" y="796.12" width="3.42" height="12.68" fill="#9d4697"/><rect x="1060.72" y="798.78" width="1.64" height="10.02" fill="#9d4697"/><rect x="1088.92" y="786.78" width="1.89" height="22.02" fill="#9d4697"/><rect x="1090.81" y="792.87" width="1.27" height="15.93" fill="#9d4697"/>
<rect x="1127.06" y="799.42" width="9.71" height="9.38" fill="#bb73b5"/><rect x="1150.67" y="786.18" width="9.49" height="22.62" fill="#bb73b5"/><rect x="1174.93" y="798.31" width="9.93" height="10.49" fill="#bb73b5"/><rect x="1187.07" y="779.12" width="11.03" height="29.68" fill="#bb73b5"/><rect x="1198.10" y="791.70" width="1.10" height="17.10" fill="#bb73b5"/><rect x="1202.95" y="794.56" width="7.94" height="14.24" fill="#bb73b5"/><rect x="1251.48" y="786.18" width="9.49" height="22.62" fill="#bb73b5"/><rect x="1260.97" y="798.31" width="8.82" height="10.49" fill="#bb73b5"/><rect x="1268.69" y="793.90" width="2.21" height="14.90" fill="#bb73b5"/><rect x="1270.90" y="799.86" width="8.82" height="8.94" fill="#bb73b5"/><rect x="1279.72" y="786.18" width="6.62" height="22.62" fill="#bb73b5"/><rect x="1298.47" y="799.42" width="6.62" height="9.38" fill="#bb73b5"/><rect x="1309.50" y="789.49" width="9.93" height="19.31" fill="#bb73b5"/><rect x="1321.63" y="786.18" width="8.82" height="22.62" fill="#bb73b5"/><rect x="1333.77" y="786.18" width="8.82" height="22.62" fill="#bb73b5"/><rect x="1352.52" y="786.18" width="9.93" height="22.62" fill="#bb73b5"/><rect x="1376.79" y="799.42" width="11.03" height="9.38" fill="#bb73b5"/><rect x="1394.43" y="786.18" width="6.62" height="22.62" fill="#bb73b5"/><rect x="1401.05" y="800.52" width="5.52" height="8.28" fill="#bb73b5"/><rect x="1127.06" y="802.17" width="3.40" height="6.63" fill="#9d4697"/><rect x="1130.46" y="801.89" width="3.50" height="6.91" fill="#9d4697"/><rect x="1133.95" y="799.73" width="2.63" height="9.07" fill="#9d4697"/><rect x="1152.25" y="786.64" width="1.80" height="22.16" fill="#9d4697"/><rect x="1156.76" y="786.99" width="2.77" height="21.81" fill="#9d4697"/><rect x="1159.53" y="791.68" width="0.62" height="17.12" fill="#9d4697"/><rect x="1174.93" y="798.51" width="3.12" height="10.29" fill="#9d4697"/><rect x="1183.41" y="798.45" width="1.45" height="10.35" fill="#9d4697"/><rect x="1193.59" y="787.59" width="2.67" height="21.21" fill="#9d4697"/><rect x="1196.26" y="779.79" width="1.84" height="29.01" fill="#9d4697"/><rect x="1198.10" y="794.73" width="1.10" height="14.07" fill="#9d4697"/><rect x="1205.60" y="796.35" width="1.77" height="12.45" fill="#9d4697"/><rect x="1207.37" y="796.52" width="1.74" height="12.28" fill="#9d4697"/><rect x="1251.48" y="786.21" width="2.32" height="22.59" fill="#9d4697"/><rect x="1253.80" y="790.23" width="1.89" height="18.57" fill="#9d4697"/><rect x="1259.02" y="792.31" width="1.95" height="16.49" fill="#9d4697"/><rect x="1260.97" y="799.74" width="3.24" height="9.06" fill="#9d4697"/><rect x="1264.21" y="800.34" width="1.87" height="8.46" fill="#9d4697"/><rect x="1266.08" y="799.78" width="1.48" height="9.02" fill="#9d4697"/><rect x="1270.19" y="794.67" width="0.70" height="14.13" fill="#9d4697"/><rect x="1270.90" y="800.27" width="3.30" height="8.53" fill="#9d4697"/><rect x="1274.20" y="800.97" width="2.25" height="7.83" fill="#9d4697"/><rect x="1281.90" y="787.65" width="2.61" height="21.15" fill="#9d4697"/><rect x="1284.51" y="786.57" width="1.83" height="22.23" fill="#9d4697"/><rect x="1298.47" y="800.45" width="1.05" height="8.35" fill="#9d4697"/><rect x="1299.52" y="800.28" width="1.85" height="8.52" fill="#9d4697"/><rect x="1301.37" y="802.11" width="2.09" height="6.69" fill="#9d4697"/><rect x="1303.45" y="801.90" width="1.64" height="6.90" fill="#9d4697"/><rect x="1309.50" y="790.27" width="1.54" height="18.53" fill="#9d4697"/><rect x="1311.04" y="794.72" width="1.45" height="14.08" fill="#9d4697"/><rect x="1312.49" y="793.29" width="2.17" height="15.51" fill="#9d4697"/><rect x="1317.51" y="793.09" width="1.92" height="15.71" fill="#9d4697"/><rect x="1321.63" y="791.59" width="3.12" height="17.21" fill="#9d4697"/><rect x="1324.76" y="787.88" width="2.22" height="20.92" fill="#9d4697"/><rect x="1326.98" y="791.28" width="2.80" height="17.52" fill="#9d4697"/><rect x="1329.78" y="792.52" width="0.68" height="16.28" fill="#9d4697"/><rect x="1333.77" y="786.93" width="2.66" height="21.87" fill="#9d4697"/><rect x="1336.43" y="789.58" width="2.61" height="19.22" fill="#9d4697"/><rect x="1339.05" y="789.66" width="2.51" height="19.14" fill="#9d4697"/><rect x="1356.99" y="792.02" width="1.58" height="16.78" fill="#9d4697"/><rect x="1360.43" y="790.39" width="2.01" height="18.41" fill="#9d4697"/><rect x="1376.79" y="799.97" width="2.60" height="8.83" fill="#9d4697"/><rect x="1379.39" y="801.21" width="3.23" height="7.59" fill="#9d4697"/><rect x="1382.62" y="801.70" width="3.12" height="7.10" fill="#9d4697"/><rect x="1385.74" y="799.87" width="1.69" height="8.93" fill="#9d4697"/><rect x="1397.48" y="787.03" width="1.48" height="21.77" fill="#9d4697"/><rect x="1398.95" y="788.52" width="2.10" height="20.28" fill="#9d4697"/><rect x="1401.05" y="802.88" width="1.49" height="5.92" fill="#9d4697"/><rect x="1402.54" y="801.72" width="1.95" height="7.08" fill="#9d4697"/><rect x="1404.49" y="801.62" width="2.08" height="7.18" fill="#9d4697"/>
<text x="789.82" y="739.70" font-size="20.80" fill="#000" stroke="#000" stroke-width="0.29" textLength="55.16" lengthAdjust="spacingAndGlyphs"><tspan>(0-11)</tspan></text>
<text x="1289.56" y="743.80" font-size="20.80" fill="#000" stroke="#000" stroke-width="0.29" textLength="118.89" lengthAdjust="spacingAndGlyphs"><tspan>AHR-IP (WT)</tspan></text>
<line x1="788.1" y1="898.3" x2="1412.3" y2="898.3" stroke="#6a72bd" stroke-width="1"/>
<rect x="1000.3" y="866.2" width="10.7" height="32.1" fill="#2f3a9b"/>
<rect x="1237.8" y="866.2" width="10.6" height="32.1" fill="#2f3a9b"/>
<text x="789.41" y="830.70" font-size="20.80" fill="#000" stroke="#000" stroke-width="0.29" textLength="55.37" lengthAdjust="spacingAndGlyphs"><tspan>(0-11)</tspan></text>
<text x="1245.46" y="834.00" font-size="20.80" fill="#000" stroke="#000" stroke-width="0.29" textLength="164.69" lengthAdjust="spacingAndGlyphs"><tspan>AHR-IP (AHR KO)</tspan></text>
<path d="M788.10 987.40 L788.10 980.37 L790.16 980.37 L790.16 983.42 L793.08 983.42 L793.08 981.32 L795.19 981.32 L795.19 978.89 L798.57 978.89 L798.57 975.36 L801.51 975.36 L801.51 982.22 L804.52 982.22 L804.52 983.06 L806.73 983.06 L806.73 976.99 L809.85 976.99 L809.85 978.50 L812.26 978.50 L812.26 983.32 L815.73 983.32 L815.73 981.04 L819.40 981.04 L819.40 980.78 L822.05 980.78 L822.05 976.67 L824.88 976.67 L824.88 974.60 L828.30 974.60 L828.30 973.29 L831.73 973.29 L831.73 979.57 L834.84 979.57 L834.84 981.75 L837.01 981.75 L837.01 974.96 L838.75 974.96 L838.75 975.01 L840.93 975.01 L840.93 981.71 L843.82 981.71 L843.82 970.44 L847.30 970.44 L847.30 979.00 L849.52 979.00 L849.52 972.57 L851.50 972.57 L851.50 965.40 L853.13 965.40 L853.13 971.17 L856.64 971.17 L856.64 965.97 L859.60 965.97 L859.60 966.69 L863.21 966.69 L863.21 971.34 L865.27 971.34 L865.27 979.30 L868.02 979.30 L868.02 970.92 L869.60 970.92 L869.60 974.41 L872.52 974.41 L872.52 974.97 L875.62 974.97 L875.62 976.26 L878.65 976.26 L878.65 981.45 L881.49 981.45 L881.49 980.33 L883.84 980.33 L883.84 984.26 L887.08 984.26 L887.08 982.44 L889.30 982.44 L889.30 980.76 L891.26 980.76 L891.26 980.99 L893.50 980.99 L893.50 981.79 L896.93 981.79 L896.93 978.63 L900.41 978.63 L900.41 980.65 L903.12 980.65 L903.12 980.08 L905.06 980.08 L905.06 979.95 L908.38 979.95 L908.38 981.36 L911.66 981.36 L911.66 981.09 L914.13 981.09 L914.13 978.75 L915.68 978.75 L915.68 978.85 L918.17 978.85 L918.17 979.40 L921.35 979.40 L921.35 981.75 L923.53 981.75 L923.53 981.84 L926.36 981.84 L926.36 978.73 L929.89 978.73 L929.89 978.27 L933.41 978.27 L933.41 979.67 L935.33 979.67 L935.33 974.80 L937.78 974.80 L937.78 975.68 L939.87 975.68 L939.87 981.18 L942.19 981.18 L942.19 977.67 L944.10 977.67 L944.10 984.13 L947.46 984.13 L947.46 982.07 L949.11 982.07 L949.11 981.04 L951.58 981.04 L951.58 983.34 L953.24 983.34 L953.24 979.31 L956.92 979.31 L956.92 981.75 L959.16 981.75 L959.16 980.92 L961.99 980.92 L961.99 978.22 L963.80 978.22 L963.80 980.35 L965.52 980.35 L965.52 977.01 L968.78 977.01 L968.78 974.55 L971.27 974.55 L971.27 968.98 L973.73 968.98 L973.73 968.32 L976.45 968.32 L976.45 966.72 L978.93 966.72 L978.93 969.09 L982.44 969.09 L982.44 971.45 L984.25 971.45 L984.25 974.15 L987.54 974.15 L987.54 977.05 L989.30 977.05 L989.30 982.88 L992.55 982.88 L992.55 982.22 L996.02 982.22 L996.02 978.75 L997.83 978.75 L997.83 980.02 L1001.47 980.02 L1001.47 979.30 L1004.69 979.30 L1004.69 973.81 L1007.88 973.81 L1007.88 970.58 L1010.66 970.58 L1010.66 969.61 L1012.75 969.61 L1012.75 971.13 L1015.10 971.13 L1015.10 968.80 L1016.82 968.80 L1016.82 974.97 L1020.01 974.97 L1020.01 970.69 L1023.03 970.69 L1023.03 978.34 L1026.55 978.34 L1026.55 976.83 L1030.10 976.83 L1030.10 980.85 L1032.05 980.85 L1032.05 981.53 L1034.28 981.53 L1034.28 978.41 L1036.48 978.41 L1036.48 980.91 L1039.30 980.91 L1039.30 979.12 L1041.90 979.12 L1041.90 975.14 L1044.15 975.14 L1044.15 976.00 L1046.74 976.00 L1046.74 976.48 L1050.09 976.48 L1050.09 978.80 L1053.51 978.80 L1053.51 981.38 L1056.08 981.38 L1056.08 977.78 L1059.11 977.78 L1059.11 982.25 L1061.06 982.25 L1061.06 979.09 L1064.49 979.09 L1064.49 981.55 L1066.72 981.55 L1066.72 979.59 L1068.47 979.59 L1068.47 980.32 L1071.28 980.32 L1071.28 981.26 L1073.78 981.26 L1073.78 981.77 L1077.42 981.77 L1077.42 980.38 L1079.57 980.38 L1079.57 983.69 L1083.11 983.69 L1083.11 979.95 L1086.35 979.95 L1086.35 979.73 L1089.33 979.73 L1089.33 980.34 L1092.98 980.34 L1092.98 981.98 L1095.61 981.98 L1095.61 983.04 L1098.39 983.04 L1098.39 979.35 L1100.33 979.35 L1100.33 983.32 L1103.92 983.32 L1103.92 980.77 L1106.77 980.77 L1106.77 982.82 L1109.00 982.82 L1109.00 980.20 L1112.20 980.20 L1112.20 980.41 L1114.32 980.41 L1114.32 980.91 L1116.97 980.91 L1116.97 979.00 L1119.25 979.00 L1119.25 975.39 L1121.56 975.39 L1121.56 981.54 L1123.32 981.54 L1123.32 980.83 L1125.27 980.83 L1125.27 976.75 L1128.60 976.75 L1128.60 981.22 L1131.02 981.22 L1131.02 980.39 L1133.00 980.39 L1133.00 974.68 L1136.31 974.68 L1136.31 974.88 L1139.07 974.88 L1139.07 976.34 L1142.12 976.34 L1142.12 969.69 L1144.98 969.69 L1144.98 971.37 L1147.98 971.37 L1147.98 970.25 L1149.94 970.25 L1149.94 971.42 L1152.90 971.42 L1152.90 976.93 L1156.41 976.93 L1156.41 974.42 L1158.06 974.42 L1158.06 968.99 L1160.78 968.99 L1160.78 979.39 L1163.85 979.39 L1163.85 975.03 L1167.43 975.03 L1167.43 976.02 L1170.75 976.02 L1170.75 980.19 L1173.95 980.19 L1173.95 982.63 L1175.66 982.63 L1175.66 980.78 L1178.74 980.78 L1178.74 981.32 L1180.95 981.32 L1180.95 979.30 L1182.89 979.30 L1182.89 981.02 L1185.24 981.02 L1185.24 982.83 L1186.79 982.83 L1186.79 982.90 L1189.34 982.90 L1189.34 983.00 L1191.77 983.00 L1191.77 980.73 L1193.68 980.73 L1193.68 980.84 L1196.21 980.84 L1196.21 980.17 L1198.63 980.17 L1198.63 982.08 L1200.65 982.08 L1200.65 978.82 L1203.56 978.82 L1203.56 978.49 L1206.71 978.49 L1206.71 977.30 L1210.30 977.30 L1210.30 972.44 L1213.63 972.44 L1213.63 967.12 L1216.67 967.12 L1216.67 977.92 L1218.28 977.92 L1218.28 969.13 L1219.94 969.13 L1219.94 971.59 L1223.62 971.59 L1223.62 979.95 L1227.23 979.95 L1227.23 979.57 L1230.85 979.57 L1230.85 976.33 L1232.64 976.33 L1232.64 979.20 L1236.22 979.20 L1236.22 975.07 L1239.60 975.07 L1239.60 977.52 L1242.06 977.52 L1242.06 977.31 L1244.19 977.31 L1244.19 972.96 L1247.29 972.96 L1247.29 979.21 L1250.40 979.21 L1250.40 977.22 L1253.43 977.22 L1253.43 966.49 L1256.38 966.49 L1256.38 969.14 L1259.89 969.14 L1259.89 973.68 L1261.59 973.68 L1261.59 978.14 L1264.38 978.14 L1264.38 979.30 L1266.45 979.30 L1266.45 980.34 L1269.28 980.34 L1269.28 971.19 L1271.30 971.19 L1271.30 969.14 L1274.17 969.14 L1274.17 979.39 L1276.10 979.39 L1276.10 969.51 L1277.70 969.51 L1277.70 975.03 L1279.43 975.03 L1279.43 973.92 L1282.32 973.92 L1282.32 975.57 L1284.62 975.57 L1284.62 976.82 L1288.00 976.82 L1288.00 979.39 L1290.72 979.39 L1290.72 980.21 L1293.03 980.21 L1293.03 981.09 L1296.18 981.09 L1296.18 981.84 L1298.20 981.84 L1298.20 983.75 L1300.68 983.75 L1300.68 980.07 L1304.27 980.07 L1304.27 979.18 L1307.16 979.18 L1307.16 979.30 L1310.78 979.30 L1310.78 981.65 L1314.03 981.65 L1314.03 978.99 L1316.21 978.99 L1316.21 982.07 L1319.34 982.07 L1319.34 979.05 L1320.97 979.05 L1320.97 978.60 L1323.26 978.60 L1323.26 980.75 L1325.03 980.75 L1325.03 977.01 L1326.91 977.01 L1326.91 975.67 L1330.60 975.67 L1330.60 978.20 L1332.83 978.20 L1332.83 975.75 L1335.16 975.75 L1335.16 976.81 L1338.65 976.81 L1338.65 984.03 L1341.97 984.03 L1341.97 982.77 L1344.69 982.77 L1344.69 981.12 L1347.92 981.12 L1347.92 984.20 L1351.61 984.20 L1351.61 981.75 L1354.11 981.75 L1354.11 981.58 L1355.85 981.58 L1355.85 981.61 L1358.31 981.61 L1358.31 978.17 L1361.23 978.17 L1361.23 981.59 L1363.32 981.59 L1363.32 975.64 L1365.98 975.64 L1365.98 982.98 L1367.89 982.98 L1367.89 978.41 L1371.42 978.41 L1371.42 978.24 L1374.75 978.24 L1374.75 981.72 L1376.67 981.72 L1376.67 979.75 L1379.41 979.75 L1379.41 978.59 L1382.72 978.59 L1382.72 976.47 L1384.95 976.47 L1384.95 972.01 L1388.31 972.01 L1388.31 974.71 L1391.12 974.71 L1391.12 971.83 L1394.22 971.83 L1394.22 975.99 L1396.57 975.99 L1396.57 979.65 L1399.53 979.65 L1399.53 974.55 L1401.91 974.55 L1401.91 974.49 L1405.54 974.49 L1405.54 981.92 L1407.70 981.92 L1407.70 981.51 L1409.42 981.51 L1409.42 978.70 L1412.11 978.70 L1412.11 984.46 L1412.30 984.46 L1412.30 987.40 Z" fill="#a2a2a2"/><path d="M788.10 987.40 L788.10 982.89 L790.16 982.89 L790.16 983.42 L793.08 983.42 L793.08 981.32 L795.19 981.32 L795.19 983.04 L798.57 983.04 L798.57 981.44 L801.51 981.44 L801.51 982.22 L804.52 982.22 L804.52 983.06 L806.73 983.06 L806.73 980.71 L809.85 980.71 L809.85 981.75 L812.26 981.75 L812.26 984.49 L815.73 984.49 L815.73 982.83 L819.40 982.83 L819.40 982.88 L822.05 982.88 L822.05 980.74 L824.88 980.74 L824.88 982.86 L828.30 982.86 L828.30 980.64 L831.73 980.64 L831.73 980.81 L834.84 980.81 L834.84 981.75 L837.01 981.75 L837.01 983.65 L838.75 983.65 L838.75 982.63 L840.93 982.63 L840.93 982.01 L843.82 982.01 L843.82 979.61 L847.30 979.61 L847.30 983.44 L849.52 983.44 L849.52 982.71 L851.50 982.71 L851.50 978.81 L853.13 978.81 L853.13 980.79 L856.64 980.79 L856.64 979.50 L859.60 979.50 L859.60 979.03 L863.21 979.03 L863.21 978.99 L865.27 978.99 L865.27 980.60 L868.02 980.60 L868.02 983.19 L869.60 983.19 L869.60 981.75 L872.52 981.75 L872.52 985.12 L875.62 985.12 L875.62 983.35 L878.65 983.35 L878.65 983.55 L881.49 983.55 L881.49 983.65 L883.84 983.65 L883.84 984.26 L887.08 984.26 L887.08 982.45 L889.30 982.45 L889.30 983.06 L891.26 983.06 L891.26 981.78 L893.50 981.78 L893.50 982.57 L896.93 982.57 L896.93 984.35 L900.41 984.35 L900.41 980.65 L903.12 980.65 L903.12 980.97 L905.06 980.97 L905.06 984.15 L908.38 984.15 L908.38 983.28 L911.66 983.28 L911.66 982.27 L914.13 982.27 L914.13 980.56 L915.68 980.56 L915.68 982.13 L918.17 982.13 L918.17 982.28 L921.35 982.28 L921.35 984.57 L923.53 984.57 L923.53 982.86 L926.36 982.86 L926.36 980.32 L929.89 980.32 L929.89 983.17 L933.41 983.17 L933.41 981.72 L935.33 981.72 L935.33 982.45 L937.78 982.45 L937.78 981.51 L939.87 981.51 L939.87 981.37 L942.19 981.37 L942.19 980.44 L944.10 980.44 L944.10 984.13 L947.46 984.13 L947.46 983.39 L949.11 983.39 L949.11 983.07 L951.58 983.07 L951.58 984.88 L953.24 984.88 L953.24 984.05 L956.92 984.05 L956.92 982.85 L959.16 982.85 L959.16 984.00 L961.99 984.00 L961.99 982.11 L963.80 982.11 L963.80 982.19 L965.52 982.19 L965.52 980.53 L968.78 980.53 L968.78 980.44 L971.27 980.44 L971.27 982.68 L973.73 982.68 L973.73 982.78 L976.45 982.78 L976.45 980.53 L978.93 980.53 L978.93 982.24 L982.44 982.24 L982.44 979.51 L984.25 979.51 L984.25 980.94 L987.54 980.94 L987.54 984.91 L989.30 984.91 L989.30 984.83 L992.55 984.83 L992.55 983.19 L996.02 983.19 L996.02 981.42 L997.83 981.42 L997.83 982.92 L1001.47 982.92 L1001.47 982.96 L1004.69 982.96 L1004.69 984.08 L1007.88 984.08 L1007.88 983.85 L1010.66 983.85 L1010.66 980.95 L1012.75 980.95 L1012.75 981.80 L1015.10 981.80 L1015.10 979.86 L1016.82 979.86 L1016.82 978.58 L1020.01 978.58 L1020.01 980.32 L1023.03 980.32 L1023.03 981.62 L1026.55 981.62 L1026.55 981.51 L1030.10 981.51 L1030.10 983.14 L1032.05 983.14 L1032.05 981.53 L1034.28 981.53 L1034.28 981.90 L1036.48 981.90 L1036.48 984.68 L1039.30 984.68 L1039.30 983.75 L1041.90 983.75 L1041.90 981.54 L1044.15 981.54 L1044.15 980.98 L1046.74 980.98 L1046.74 981.38 L1050.09 981.38 L1050.09 980.11 L1053.51 980.11 L1053.51 982.73 L1056.08 982.73 L1056.08 982.24 L1059.11 982.24 L1059.11 983.25 L1061.06 983.25 L1061.06 982.74 L1064.49 982.74 L1064.49 983.03 L1066.72 983.03 L1066.72 983.77 L1068.47 983.77 L1068.47 984.67 L1071.28 984.67 L1071.28 983.53 L1073.78 983.53 L1073.78 983.51 L1077.42 983.51 L1077.42 983.18 L1079.57 983.18 L1079.57 983.69 L1083.11 983.69 L1083.11 983.08 L1086.35 983.08 L1086.35 983.00 L1089.33 983.00 L1089.33 983.55 L1092.98 983.55 L1092.98 981.98 L1095.61 981.98 L1095.61 983.04 L1098.39 983.04 L1098.39 983.17 L1100.33 983.17 L1100.33 983.32 L1103.92 983.32 L1103.92 982.46 L1106.77 982.46 L1106.77 983.58 L1109.00 983.58 L1109.00 982.33 L1112.20 982.33 L1112.20 982.67 L1114.32 982.67 L1114.32 982.07 L1116.97 982.07 L1116.97 981.36 L1119.25 981.36 L1119.25 984.18 L1121.56 984.18 L1121.56 981.54 L1123.32 981.54 L1123.32 981.80 L1125.27 981.80 L1125.27 983.18 L1128.60 983.18 L1128.60 982.13 L1131.02 982.13 L1131.02 982.96 L1133.00 982.96 L1133.00 981.26 L1136.31 981.26 L1136.31 979.58 L1139.07 979.58 L1139.07 980.59 L1142.12 980.59 L1142.12 981.43 L1144.98 981.43 L1144.98 981.29 L1147.98 981.29 L1147.98 982.42 L1149.94 982.42 L1149.94 978.20 L1152.90 978.20 L1152.90 979.57 L1156.41 979.57 L1156.41 984.31 L1158.06 984.31 L1158.06 980.28 L1160.78 980.28 L1160.78 980.27 L1163.85 980.27 L1163.85 981.94 L1167.43 981.94 L1167.43 981.53 L1170.75 981.53 L1170.75 984.97 L1173.95 984.97 L1173.95 983.79 L1175.66 983.79 L1175.66 982.71 L1178.74 982.71 L1178.74 982.27 L1180.95 982.27 L1180.95 982.46 L1182.89 982.46 L1182.89 983.13 L1185.24 983.13 L1185.24 982.83 L1186.79 982.83 L1186.79 984.40 L1189.34 984.40 L1189.34 985.08 L1191.77 985.08 L1191.77 985.17 L1193.68 985.17 L1193.68 983.17 L1196.21 983.17 L1196.21 982.70 L1198.63 982.70 L1198.63 983.47 L1200.65 983.47 L1200.65 984.85 L1203.56 984.85 L1203.56 981.26 L1206.71 981.26 L1206.71 983.53 L1210.30 983.53 L1210.30 983.93 L1213.63 983.93 L1213.63 983.60 L1216.67 983.60 L1216.67 984.69 L1218.28 984.69 L1218.28 981.58 L1219.94 981.58 L1219.94 977.93 L1223.62 977.93 L1223.62 981.40 L1227.23 981.40 L1227.23 980.63 L1230.85 980.63 L1230.85 981.55 L1232.64 981.55 L1232.64 980.21 L1236.22 980.21 L1236.22 981.16 L1239.60 981.16 L1239.60 980.90 L1242.06 980.90 L1242.06 980.20 L1244.19 980.20 L1244.19 983.10 L1247.29 983.10 L1247.29 979.56 L1250.40 979.56 L1250.40 979.77 L1253.43 979.77 L1253.43 980.28 L1256.38 980.28 L1256.38 982.44 L1259.89 982.44 L1259.89 981.99 L1261.59 981.99 L1261.59 981.81 L1264.38 981.81 L1264.38 981.55 L1266.45 981.55 L1266.45 980.34 L1269.28 980.34 L1269.28 980.02 L1271.30 980.02 L1271.30 982.83 L1274.17 982.83 L1274.17 982.39 L1276.10 982.39 L1276.10 980.74 L1277.70 980.74 L1277.70 981.12 L1279.43 981.12 L1279.43 979.50 L1282.32 979.50 L1282.32 983.65 L1284.62 983.65 L1284.62 982.26 L1288.00 982.26 L1288.00 983.00 L1290.72 983.00 L1290.72 983.81 L1293.03 983.81 L1293.03 982.05 L1296.18 982.05 L1296.18 981.84 L1298.20 981.84 L1298.20 984.39 L1300.68 984.39 L1300.68 980.67 L1304.27 980.67 L1304.27 982.90 L1307.16 982.90 L1307.16 981.52 L1310.78 981.52 L1310.78 981.65 L1314.03 981.65 L1314.03 984.64 L1316.21 984.64 L1316.21 982.41 L1319.34 982.41 L1319.34 983.53 L1320.97 983.53 L1320.97 982.43 L1323.26 982.43 L1323.26 983.95 L1325.03 983.95 L1325.03 980.41 L1326.91 980.41 L1326.91 983.78 L1330.60 983.78 L1330.60 982.06 L1332.83 982.06 L1332.83 983.09 L1335.16 983.09 L1335.16 983.80 L1338.65 983.80 L1338.65 984.03 L1341.97 984.03 L1341.97 984.78 L1344.69 984.78 L1344.69 981.12 L1347.92 981.12 L1347.92 984.82 L1351.61 984.82 L1351.61 984.02 L1354.11 984.02 L1354.11 982.74 L1355.85 982.74 L1355.85 984.18 L1358.31 984.18 L1358.31 980.42 L1361.23 980.42 L1361.23 981.59 L1363.32 981.59 L1363.32 982.85 L1365.98 982.85 L1365.98 982.98 L1367.89 982.98 L1367.89 980.47 L1371.42 980.47 L1371.42 982.66 L1374.75 982.66 L1374.75 981.72 L1376.67 981.72 L1376.67 983.05 L1379.41 983.05 L1379.41 982.03 L1382.72 982.03 L1382.72 981.04 L1384.95 981.04 L1384.95 983.44 L1388.31 983.44 L1388.31 982.77 L1391.12 982.77 L1391.12 982.37 L1394.22 982.37 L1394.22 979.01 L1396.57 979.01 L1396.57 981.97 L1399.53 981.97 L1399.53 983.50 L1401.91 983.50 L1401.91 983.14 L1405.54 983.14 L1405.54 981.92 L1407.70 981.92 L1407.70 984.59 L1409.42 984.59 L1409.42 981.30 L1412.11 981.30 L1412.11 984.46 L1412.30 984.46 L1412.30 987.40 Z" fill="#6e6e6e"/>
<line x1="788.1" y1="986.8" x2="1412.3" y2="986.8" stroke="#777" stroke-width="1"/>
<text x="789.41" y="918.40" font-size="20.80" fill="#000" stroke="#000" stroke-width="0.29" textLength="55.37" lengthAdjust="spacingAndGlyphs"><tspan>(0-11)</tspan></text>
<text x="1316.31" y="921.80" font-size="20.80" fill="#000" stroke="#000" stroke-width="0.29" textLength="92.38" lengthAdjust="spacingAndGlyphs"><tspan>INPUT_IP</tspan></text>
<rect x="788.6" y="990" width="623.7" height="33.3" fill="#f8f8f8"/>
<rect x="797.1" y="1001.5" width="104.8" height="8.5" fill="#c8601e"/>
<line x1="1001" y1="1005.8" x2="1300" y2="1005.8" stroke="#363f9e" stroke-width="1"/>
<rect x="919.9" y="1000.6" width="64.2" height="10.7" fill="#363f9e"/>
<rect x="984.1" y="996" width="17.1" height="19.6" fill="#363f9e"/>
<rect x="1076" y="996" width="9" height="19.6" fill="#363f9e"/>
<rect x="1299.8" y="996" width="35.5" height="19.6" fill="#363f9e"/>
<rect x="1335.3" y="1000.6" width="18.8" height="10.7" fill="#363f9e"/>
<path d="M1018.50 1003.55 L1016.30 1005.80 L1018.50 1008.05" fill="none" stroke="#363f9e" stroke-width="1"/>
<path d="M1048.50 1003.55 L1046.30 1005.80 L1048.50 1008.05" fill="none" stroke="#363f9e" stroke-width="1"/>
<path d="M1104.10 1003.55 L1101.90 1005.80 L1104.10 1008.05" fill="none" stroke="#363f9e" stroke-width="1"/>
<path d="M1131.90 1003.55 L1129.70 1005.80 L1131.90 1008.05" fill="none" stroke="#363f9e" stroke-width="1"/>
<path d="M1161.00 1003.55 L1158.80 1005.80 L1161.00 1008.05" fill="none" stroke="#363f9e" stroke-width="1"/>
<path d="M1190.50 1003.55 L1188.30 1005.80 L1190.50 1008.05" fill="none" stroke="#363f9e" stroke-width="1"/>
<path d="M1219.60 1003.55 L1217.40 1005.80 L1219.60 1008.05" fill="none" stroke="#363f9e" stroke-width="1"/>
<path d="M1248.70 1003.55 L1246.50 1005.80 L1248.70 1008.05" fill="none" stroke="#363f9e" stroke-width="1"/>
<path d="M1277.40 1003.55 L1275.20 1005.80 L1277.40 1008.05" fill="none" stroke="#363f9e" stroke-width="1"/>
<path d="M1331.10 1003.55 L1328.90 1005.80 L1331.10 1008.05" fill="none" stroke="#fff" stroke-width="1"/>
<text x="794.88" y="1049.00" font-size="25.30" fill="#000" stroke="#000" stroke-width="0.35" textLength="116.07" lengthAdjust="spacingAndGlyphs"><tspan>Enhancer</tspan></text>
<text x="795.85" y="1078.50" font-size="25.30" fill="#000" stroke="#000" stroke-width="0.35" textLength="180.95" lengthAdjust="spacingAndGlyphs"><tspan>OREG1865271</tspan></text>
<path d="M1159 1070.5 H1245.3 V1044.1 H1344.2" fill="none" stroke="#000" stroke-width="3.2"/>
<path d="M1146.8 1070.5 L1159.7 1063.6 L1159.7 1077.4 Z" fill="#000"/>
<text x="1257.70" y="1082.60" font-size="38.10" fill="#000" stroke="#000" stroke-width="0.53" textLength="87.17" lengthAdjust="spacingAndGlyphs"><tspan>Cdx2</tspan></text>
<text x="734.39" y="1110.50" font-size="40.00" fill="#000" stroke="#000" stroke-width="0.56" textLength="22.92" lengthAdjust="spacingAndGlyphs"><tspan font-weight="bold">e</tspan></text>
<line x1="763.00" y1="1150.70" x2="1034.80" y2="1150.70" stroke="#000" stroke-width="3.50"/><path d="M744.00 1150.70 L764.00 1140.70 L764.00 1160.70 Z" fill="#000"/>
<line x1="1147.00" y1="1150.70" x2="1438.40" y2="1150.70" stroke="#000" stroke-width="3.50"/><path d="M1457.40 1150.70 L1437.40 1140.70 L1437.40 1160.70 Z" fill="#000"/>
<text x="1058.49" y="1158.70" font-size="34.50" fill="#000" stroke="#000" stroke-width="0.48" textLength="81.72" lengthAdjust="spacingAndGlyphs"><tspan>7.8kb</tspan></text>
<rect x="796.5" y="1167.6" width="615.9" height="337" fill="#f9f9f9"/>
<path d="M796.50 1250.10 L796.50 1246.94 L797.65 1247.13 L798.80 1246.93 L799.95 1245.56 L801.10 1245.06 L802.25 1245.64 L803.40 1245.20 L804.45 1245.07 L805.50 1243.49 L806.55 1241.99 L807.60 1240.58 L808.65 1239.49 L809.70 1237.04 L810.75 1236.38 L811.80 1234.46 L812.94 1235.53 L814.08 1233.11 L815.22 1234.22 L816.36 1232.02 L817.50 1232.81 L818.55 1230.82 L819.60 1229.74 L820.65 1229.48 L821.70 1226.44 L822.75 1225.31 L823.80 1225.96 L824.85 1223.84 L825.90 1221.70 L826.95 1222.96 L828.00 1222.16 L829.05 1219.61 L830.10 1219.58 L831.15 1218.23 L832.20 1217.91 L833.25 1217.88 L834.30 1216.16 L835.30 1217.23 L836.30 1215.71 L837.30 1215.88 L838.30 1217.19 L839.30 1216.18 L840.30 1216.12 L841.30 1216.41 L842.70 1214.05 L844.10 1211.75 L845.10 1209.67 L846.10 1209.90 L847.10 1209.13 L848.10 1207.85 L849.10 1205.86 L850.10 1203.88 L851.10 1202.60 L852.11 1203.42 L853.13 1203.48 L854.14 1202.35 L855.16 1202.72 L856.17 1203.10 L857.19 1203.52 L858.20 1204.28 L859.32 1202.48 L860.44 1200.32 L861.56 1200.95 L862.68 1198.97 L863.80 1198.04 L864.92 1195.99 L866.04 1195.04 L867.16 1193.55 L868.28 1193.00 L869.40 1190.13 L870.40 1191.31 L871.40 1190.69 L872.40 1192.03 L873.40 1190.78 L874.40 1191.51 L875.40 1191.86 L876.40 1192.70 L877.45 1190.60 L878.50 1190.68 L879.55 1189.31 L880.60 1188.65 L881.65 1188.26 L882.70 1188.51 L883.87 1189.32 L885.03 1192.24 L886.20 1192.37 L887.23 1197.07 L888.27 1198.87 L889.30 1201.52 L890.30 1200.82 L891.30 1199.26 L892.30 1195.34 L893.30 1193.99 L894.35 1194.22 L895.40 1192.40 L896.45 1191.31 L897.50 1189.92 L898.55 1189.11 L899.60 1189.51 L900.65 1189.44 L901.70 1188.60 L902.82 1185.53 L903.94 1182.49 L905.06 1181.17 L906.18 1180.21 L907.30 1178.33 L908.39 1177.60 L909.48 1176.38 L910.57 1176.73 L911.66 1176.31 L912.74 1176.32 L913.83 1175.21 L914.92 1176.40 L916.01 1175.98 L917.10 1174.06 L918.15 1174.69 L919.20 1176.32 L920.25 1175.36 L921.30 1177.18 L922.35 1176.58 L923.40 1177.33 L924.45 1177.70 L925.50 1176.97 L926.56 1177.21 L927.62 1177.24 L928.69 1178.27 L929.75 1178.38 L930.81 1177.23 L931.88 1178.98 L932.94 1178.04 L934.00 1177.73 L935.09 1178.62 L936.18 1180.29 L937.27 1179.83 L938.36 1180.44 L939.44 1181.56 L940.53 1182.12 L941.62 1182.14 L942.71 1181.85 L943.80 1182.69 L944.80 1183.99 L945.80 1184.35 L946.80 1184.50 L947.80 1184.59 L948.80 1185.25 L949.80 1186.66 L950.80 1186.89 L951.80 1186.29 L952.80 1188.43 L953.80 1189.46 L954.80 1189.83 L955.80 1190.66 L956.80 1191.30 L957.80 1191.08 L958.86 1192.42 L959.92 1192.31 L960.99 1192.48 L962.05 1193.83 L963.11 1194.52 L964.17 1196.68 L965.24 1196.93 L966.30 1197.39 L967.30 1198.67 L968.30 1198.67 L969.30 1200.68 L970.30 1202.14 L971.30 1202.57 L972.30 1203.34 L973.30 1204.80 L974.42 1206.15 L975.54 1208.49 L976.66 1208.83 L977.78 1210.26 L978.90 1212.29 L979.95 1214.72 L981.00 1216.45 L982.05 1217.81 L983.10 1220.01 L984.15 1220.34 L985.20 1221.19 L986.25 1223.79 L987.30 1225.28 L988.35 1225.22 L989.40 1226.82 L990.45 1226.63 L991.50 1226.92 L992.62 1226.42 L993.74 1227.08 L994.86 1224.32 L995.98 1224.39 L997.10 1223.52 L998.55 1222.99 L1000.00 1223.15 L1001.05 1222.77 L1002.10 1224.40 L1003.15 1223.56 L1004.20 1224.09 L1005.25 1222.99 L1006.30 1223.75 L1007.35 1224.15 L1008.40 1224.75 L1009.52 1224.01 L1010.64 1225.03 L1011.76 1226.46 L1012.88 1226.97 L1014.00 1226.20 L1015.14 1227.58 L1016.28 1228.77 L1017.42 1228.67 L1018.56 1229.98 L1019.70 1230.66 L1020.82 1230.50 L1021.94 1228.74 L1023.06 1228.18 L1024.18 1226.61 L1025.30 1226.61 L1026.35 1225.88 L1027.40 1226.45 L1028.45 1226.32 L1029.50 1226.38 L1030.55 1226.17 L1031.60 1226.55 L1032.65 1227.42 L1033.70 1226.95 L1034.75 1225.98 L1035.80 1227.12 L1036.85 1225.45 L1037.90 1226.36 L1038.95 1225.09 L1040.00 1224.11 L1041.05 1224.65 L1042.10 1224.17 L1043.15 1222.36 L1044.20 1221.38 L1045.25 1221.96 L1046.30 1221.85 L1047.42 1220.64 L1048.54 1220.33 L1049.66 1218.81 L1050.78 1218.56 L1051.90 1217.08 L1052.95 1216.95 L1054.00 1216.44 L1055.05 1216.00 L1056.10 1215.58 L1057.24 1216.66 L1058.38 1215.43 L1059.52 1215.69 L1060.66 1215.98 L1061.80 1217.74 L1062.85 1216.43 L1063.90 1215.07 L1064.95 1216.46 L1066.00 1216.22 L1067.05 1215.78 L1068.10 1214.44 L1069.15 1214.94 L1070.20 1213.67 L1071.60 1212.95 L1073.00 1214.20 L1074.12 1214.55 L1075.24 1213.60 L1076.36 1215.50 L1077.48 1214.03 L1078.60 1215.08 L1079.65 1214.25 L1080.70 1214.43 L1081.75 1214.23 L1082.80 1215.27 L1083.85 1214.18 L1084.90 1213.77 L1085.95 1213.58 L1087.00 1213.69 L1088.12 1214.62 L1089.24 1213.78 L1090.36 1212.39 L1091.48 1213.39 L1092.60 1212.78 L1093.70 1212.49 L1094.80 1212.56 L1095.30 1205.33 L1096.20 1205.66 L1096.90 1212.71 L1097.95 1212.91 L1099.00 1212.45 L1100.05 1212.73 L1101.10 1212.10 L1102.15 1212.08 L1103.20 1212.21 L1104.25 1212.56 L1105.30 1211.51 L1106.35 1212.58 L1107.40 1211.28 L1108.45 1211.73 L1109.50 1211.02 L1110.59 1211.49 L1111.68 1210.78 L1112.77 1210.11 L1113.86 1209.95 L1114.94 1210.28 L1116.03 1210.49 L1117.12 1210.57 L1118.21 1208.90 L1119.30 1208.64 L1120.39 1208.77 L1121.48 1208.75 L1122.57 1208.72 L1123.66 1208.65 L1124.74 1209.22 L1125.83 1208.95 L1126.92 1210.24 L1128.01 1210.12 L1129.10 1210.92 L1130.13 1210.98 L1131.15 1210.57 L1132.18 1211.08 L1133.21 1209.12 L1134.24 1209.62 L1135.26 1211.22 L1136.29 1210.29 L1137.32 1209.76 L1138.35 1211.04 L1139.37 1210.37 L1140.40 1210.69 L1141.42 1210.23 L1142.44 1210.10 L1143.45 1209.80 L1144.47 1210.98 L1145.49 1211.78 L1146.51 1211.89 L1147.53 1211.44 L1148.55 1211.84 L1149.56 1210.62 L1150.58 1210.52 L1151.60 1211.93 L1152.60 1211.26 L1153.60 1211.46 L1154.60 1210.06 L1155.60 1210.57 L1156.60 1211.18 L1157.60 1211.77 L1158.60 1212.02 L1159.60 1212.87 L1160.60 1212.95 L1161.60 1214.04 L1162.60 1216.10 L1163.60 1217.38 L1164.60 1217.27 L1165.60 1217.63 L1166.74 1219.71 L1167.88 1220.66 L1169.02 1221.42 L1170.16 1222.27 L1171.30 1223.75 L1172.30 1224.65 L1173.30 1223.98 L1174.30 1225.29 L1175.30 1226.60 L1176.30 1226.54 L1177.30 1225.85 L1178.30 1226.62 L1179.35 1228.03 L1180.40 1231.52 L1181.45 1233.39 L1182.50 1234.48 L1183.52 1235.31 L1184.54 1235.41 L1185.55 1235.37 L1186.57 1234.93 L1187.59 1234.78 L1188.61 1234.88 L1189.63 1236.29 L1190.65 1234.83 L1191.66 1235.21 L1192.68 1235.11 L1193.70 1234.48 L1194.75 1234.63 L1195.80 1233.85 L1196.85 1233.76 L1197.90 1233.51 L1199.02 1234.31 L1200.14 1236.44 L1201.26 1235.87 L1202.38 1236.79 L1203.50 1238.35 L1205.00 1239.17 L1206.12 1240.55 L1207.24 1241.96 L1208.36 1241.82 L1209.48 1244.26 L1210.60 1244.12 L1211.60 1244.55 L1212.60 1245.88 L1213.60 1246.38 L1214.60 1245.78 L1215.60 1244.78 L1216.60 1245.46 L1217.60 1245.22 L1219.00 1249.25 L1220.06 1248.09 L1221.12 1248.18 L1222.19 1249.33 L1223.25 1249.50 L1224.31 1249.57 L1225.38 1249.50 L1226.44 1250.10 L1227.50 1249.81 L1228.52 1250.10 L1229.54 1249.66 L1230.55 1249.82 L1231.57 1249.59 L1232.59 1250.10 L1233.61 1250.10 L1234.63 1249.33 L1235.65 1249.96 L1236.66 1250.10 L1237.68 1249.90 L1238.70 1250.10 L1239.72 1250.10 L1240.74 1250.10 L1241.75 1249.58 L1242.77 1249.47 L1243.79 1248.85 L1244.81 1250.10 L1245.83 1250.10 L1246.85 1249.66 L1247.86 1250.10 L1248.88 1250.10 L1249.90 1249.13 L1250.92 1250.10 L1251.94 1249.73 L1252.95 1249.49 L1253.97 1249.37 L1254.99 1249.71 L1256.01 1248.91 L1257.03 1248.91 L1258.05 1249.06 L1259.06 1249.48 L1260.08 1249.15 L1261.10 1249.07 L1262.17 1250.10 L1263.25 1248.59 L1264.33 1248.30 L1265.40 1248.02 L1266.52 1248.19 L1267.64 1245.90 L1268.76 1245.52 L1269.88 1246.35 L1271.00 1245.90 L1272.05 1246.04 L1273.10 1245.24 L1274.15 1244.97 L1275.20 1244.67 L1276.25 1246.34 L1277.30 1246.11 L1278.35 1245.73 L1279.40 1246.34 L1280.45 1245.87 L1281.50 1247.17 L1282.55 1248.69 L1283.60 1247.64 L1284.64 1248.72 L1285.67 1247.73 L1286.71 1249.13 L1287.75 1249.10 L1288.78 1248.63 L1289.82 1248.14 L1290.86 1247.19 L1291.89 1248.19 L1292.93 1247.86 L1293.97 1247.91 L1295.01 1247.17 L1296.04 1248.98 L1297.08 1248.07 L1298.12 1248.12 L1299.15 1248.70 L1300.19 1248.78 L1301.23 1247.98 L1302.26 1247.93 L1303.30 1248.56 L1304.33 1247.45 L1305.35 1248.53 L1306.38 1246.53 L1307.41 1248.16 L1308.43 1247.49 L1309.46 1247.63 L1310.49 1248.37 L1311.51 1246.60 L1312.54 1246.94 L1313.57 1247.73 L1314.59 1247.54 L1315.62 1246.97 L1316.65 1247.46 L1317.67 1247.16 L1318.70 1247.51 L1319.82 1247.25 L1320.94 1246.84 L1322.06 1246.89 L1323.18 1246.66 L1324.30 1246.97 L1325.30 1247.05 L1326.30 1249.36 L1327.30 1247.78 L1328.30 1249.05 L1329.30 1248.28 L1330.30 1250.10 L1331.30 1249.67 L1332.31 1248.89 L1333.32 1250.10 L1334.34 1250.10 L1335.35 1250.10 L1336.36 1248.99 L1337.37 1249.39 L1338.38 1249.95 L1339.40 1249.12 L1340.41 1249.75 L1341.42 1250.04 L1342.43 1250.10 L1343.44 1250.10 L1344.46 1250.10 L1345.47 1249.13 L1346.48 1250.10 L1347.49 1249.45 L1348.50 1248.87 L1349.52 1248.55 L1350.53 1249.87 L1351.54 1249.29 L1352.55 1248.71 L1353.56 1249.58 L1354.58 1249.41 L1355.59 1249.22 L1356.60 1249.75 L1357.69 1249.49 L1358.78 1249.27 L1359.87 1250.07 L1360.96 1249.69 L1362.04 1248.16 L1363.13 1249.22 L1364.22 1247.79 L1365.31 1248.96 L1366.40 1246.83 L1367.45 1246.52 L1368.50 1247.00 L1369.55 1245.53 L1370.60 1244.75 L1371.65 1242.77 L1372.70 1241.72 L1373.75 1242.69 L1374.80 1239.85 L1375.81 1239.59 L1376.83 1239.65 L1377.84 1240.00 L1378.86 1239.19 L1379.87 1239.40 L1380.89 1238.41 L1381.90 1237.16 L1383.02 1238.35 L1384.14 1237.18 L1385.26 1236.73 L1386.38 1238.87 L1387.50 1238.84 L1388.90 1236.25 L1390.30 1233.76 L1391.35 1232.36 L1392.40 1231.61 L1393.45 1230.49 L1394.50 1229.76 L1395.55 1229.82 L1396.60 1229.95 L1397.65 1229.24 L1398.70 1227.53 L1399.82 1227.46 L1400.94 1226.59 L1402.06 1226.85 L1403.18 1226.27 L1404.30 1226.47 L1405.35 1226.69 L1406.40 1226.84 L1407.45 1227.17 L1408.50 1226.77 L1409.80 1227.20 L1411.10 1226.92 L1412.40 1226.04 L1412.40 1250.10 Z" fill="#056767"/><rect x="1016.28" y="1229.77" width="0.7" height="20.33" fill="#ffffff" fill-opacity="0.25"/><rect x="1029.50" y="1227.38" width="0.7" height="22.72" fill="#ffffff" fill-opacity="0.16"/><rect x="873.40" y="1191.78" width="0.7" height="58.32" fill="#ffffff" fill-opacity="0.19"/><rect x="894.35" y="1195.22" width="0.7" height="54.88" fill="#ffffff" fill-opacity="0.21"/><rect x="1015.14" y="1228.58" width="0.7" height="21.52" fill="#ffffff" fill-opacity="0.15"/><rect x="990.45" y="1227.63" width="0.7" height="22.47" fill="#ffffff" fill-opacity="0.25"/><rect x="952.80" y="1189.43" width="0.7" height="60.67" fill="#ffffff" fill-opacity="0.14"/><rect x="976.66" y="1209.83" width="0.7" height="40.27" fill="#ffffff" fill-opacity="0.26"/><rect x="981.00" y="1217.45" width="0.7" height="32.65" fill="#ffffff" fill-opacity="0.13"/><rect x="948.80" y="1186.25" width="0.7" height="63.85" fill="#ffffff" fill-opacity="0.15"/><rect x="892.30" y="1196.34" width="0.7" height="53.76" fill="#ffffff" fill-opacity="0.29"/><rect x="1405.35" y="1227.69" width="0.7" height="22.41" fill="#ffffff" fill-opacity="0.23"/><rect x="957.80" y="1192.08" width="0.7" height="58.02" fill="#ffffff" fill-opacity="0.31"/><rect x="954.80" y="1190.83" width="0.7" height="59.27" fill="#ffffff" fill-opacity="0.30"/><rect x="1391.35" y="1233.36" width="0.7" height="16.74" fill="#ffffff" fill-opacity="0.24"/><rect x="1081.75" y="1215.23" width="0.7" height="34.87" fill="#ffffff" fill-opacity="0.17"/><rect x="972.30" y="1204.34" width="0.7" height="45.76" fill="#ffffff" fill-opacity="0.23"/><rect x="1386.38" y="1239.87" width="0.7" height="10.23" fill="#ffffff" fill-opacity="0.30"/><rect x="829.05" y="1220.61" width="0.7" height="29.49" fill="#ffffff" fill-opacity="0.21"/><rect x="841.30" y="1217.41" width="0.7" height="32.69" fill="#ffffff" fill-opacity="0.21"/><rect x="932.94" y="1179.04" width="0.7" height="71.06" fill="#ffffff" fill-opacity="0.31"/><rect x="1268.76" y="1246.52" width="0.7" height="3.58" fill="#ffffff" fill-opacity="0.27"/><rect x="1399.82" y="1228.46" width="0.7" height="21.64" fill="#ffffff" fill-opacity="0.16"/><rect x="863.80" y="1199.04" width="0.7" height="51.06" fill="#ffffff" fill-opacity="0.25"/><rect x="816.36" y="1233.02" width="0.7" height="17.08" fill="#ffffff" fill-opacity="0.12"/><rect x="1372.70" y="1242.72" width="0.7" height="7.38" fill="#ffffff" fill-opacity="0.15"/><rect x="1123.66" y="1209.65" width="0.7" height="40.45" fill="#ffffff" fill-opacity="0.23"/><rect x="893.30" y="1194.99" width="0.7" height="55.11" fill="#ffffff" fill-opacity="0.21"/><rect x="1375.81" y="1240.59" width="0.7" height="9.51" fill="#ffffff" fill-opacity="0.28"/><rect x="986.25" y="1224.79" width="0.7" height="25.31" fill="#ffffff" fill-opacity="0.28"/><rect x="871.40" y="1191.69" width="0.7" height="58.41" fill="#ffffff" fill-opacity="0.28"/><rect x="824.85" y="1224.84" width="0.7" height="25.26" fill="#ffffff" fill-opacity="0.29"/><rect x="807.60" y="1241.58" width="0.7" height="8.52" fill="#ffffff" fill-opacity="0.15"/><rect x="882.70" y="1189.51" width="0.7" height="60.59" fill="#ffffff" fill-opacity="0.12"/><rect x="1199.02" y="1235.31" width="0.7" height="14.79" fill="#ffffff" fill-opacity="0.17"/><rect x="1185.55" y="1236.37" width="0.7" height="13.73" fill="#ffffff" fill-opacity="0.14"/><rect x="979.95" y="1215.72" width="0.7" height="34.38" fill="#ffffff" fill-opacity="0.21"/><rect x="900.65" y="1190.44" width="0.7" height="59.66" fill="#ffffff" fill-opacity="0.30"/><rect x="1200.14" y="1237.44" width="0.7" height="12.66" fill="#ffffff" fill-opacity="0.31"/><rect x="1189.63" y="1237.29" width="0.7" height="12.81" fill="#ffffff" fill-opacity="0.32"/><rect x="911.66" y="1177.31" width="0.7" height="72.79" fill="#ffffff" fill-opacity="0.19"/><rect x="1047.42" y="1221.64" width="0.7" height="28.46" fill="#ffffff" fill-opacity="0.26"/><rect x="1077.48" y="1215.03" width="0.7" height="35.07" fill="#ffffff" fill-opacity="0.28"/><rect x="1166.74" y="1220.71" width="0.7" height="29.39" fill="#ffffff" fill-opacity="0.12"/><rect x="889.30" y="1202.52" width="0.7" height="47.58" fill="#ffffff" fill-opacity="0.20"/><rect x="967.30" y="1199.67" width="0.7" height="50.43" fill="#ffffff" fill-opacity="0.17"/><rect x="1377.84" y="1241.00" width="0.7" height="9.10" fill="#ffffff" fill-opacity="0.29"/><rect x="1216.60" y="1246.46" width="0.7" height="3.64" fill="#ffffff" fill-opacity="0.26"/><rect x="896.45" y="1192.31" width="0.7" height="57.79" fill="#ffffff" fill-opacity="0.30"/><rect x="966.30" y="1198.39" width="0.7" height="51.71" fill="#ffffff" fill-opacity="0.24"/><rect x="978.90" y="1213.29" width="0.7" height="36.81" fill="#ffffff" fill-opacity="0.26"/><rect x="1137.32" y="1210.76" width="0.7" height="39.34" fill="#ffffff" fill-opacity="0.23"/><rect x="1054.00" y="1217.44" width="0.7" height="32.66" fill="#ffffff" fill-opacity="0.13"/><rect x="1009.52" y="1225.01" width="0.7" height="25.09" fill="#ffffff" fill-opacity="0.18"/><rect x="1404.30" y="1227.47" width="0.7" height="22.63" fill="#ffffff" fill-opacity="0.18"/><rect x="985.20" y="1222.19" width="0.7" height="27.91" fill="#ffffff" fill-opacity="0.30"/><rect x="868.28" y="1194.00" width="0.7" height="56.10" fill="#ffffff" fill-opacity="0.20"/><rect x="881.65" y="1189.26" width="0.7" height="60.84" fill="#ffffff" fill-opacity="0.24"/><rect x="1211.60" y="1245.55" width="0.7" height="4.55" fill="#ffffff" fill-opacity="0.12"/><rect x="1097.95" y="1213.91" width="0.7" height="36.19" fill="#ffffff" fill-opacity="0.19"/><rect x="1135.26" y="1212.22" width="0.7" height="37.88" fill="#ffffff" fill-opacity="0.19"/><rect x="819.60" y="1230.74" width="0.7" height="19.36" fill="#ffffff" fill-opacity="0.14"/><rect x="1054.00" y="1217.44" width="0.7" height="32.66" fill="#ffffff" fill-opacity="0.17"/><rect x="861.56" y="1201.95" width="0.7" height="48.15" fill="#ffffff" fill-opacity="0.20"/><rect x="1021.94" y="1229.74" width="0.7" height="20.36" fill="#ffffff" fill-opacity="0.31"/><rect x="807.60" y="1241.58" width="0.7" height="8.52" fill="#ffffff" fill-opacity="0.27"/><rect x="1044.20" y="1222.38" width="0.7" height="27.72" fill="#ffffff" fill-opacity="0.18"/>
<text x="796.73" y="1188.00" font-size="20.80" fill="#000" stroke="#000" stroke-width="0.29" textLength="71.74" lengthAdjust="spacingAndGlyphs"><tspan>(0-4.16)</tspan></text>
<text x="1314.46" y="1190.30" font-size="20.50" fill="#000" stroke="#000" stroke-width="0.29" textLength="92.52" lengthAdjust="spacingAndGlyphs"><tspan>ATAC-seq</tspan></text>
<line x1="796.5" y1="1335.2" x2="1412.4" y2="1335.2" stroke="#d0d0d0" stroke-width="1"/>
<rect x="865.56" y="1331.84" width="4.28" height="2.96" fill="#bb73b5"/><rect x="869.84" y="1313.45" width="2.57" height="21.35" fill="#bb73b5"/><rect x="872.41" y="1270.67" width="2.57" height="64.13" fill="#bb73b5"/><rect x="874.97" y="1257.83" width="2.57" height="76.97" fill="#bb73b5"/><rect x="877.54" y="1261.26" width="2.57" height="73.54" fill="#bb73b5"/><rect x="880.11" y="1277.09" width="2.57" height="57.71" fill="#bb73b5"/><rect x="882.67" y="1300.61" width="2.57" height="34.19" fill="#bb73b5"/><rect x="885.24" y="1315.59" width="2.57" height="19.21" fill="#bb73b5"/><rect x="887.81" y="1322.01" width="2.57" height="12.79" fill="#bb73b5"/><rect x="890.37" y="1326.28" width="2.57" height="8.52" fill="#bb73b5"/><rect x="892.94" y="1330.56" width="3.42" height="4.24" fill="#bb73b5"/><rect x="896.36" y="1329.71" width="11.98" height="5.09" fill="#bb73b5"/><rect x="908.34" y="1331.84" width="8.56" height="2.96" fill="#bb73b5"/><rect x="1066.63" y="1326.28" width="2.57" height="8.52" fill="#bb73b5"/><rect x="1069.20" y="1316.87" width="2.57" height="17.93" fill="#bb73b5"/><rect x="1071.76" y="1311.31" width="3.42" height="23.49" fill="#bb73b5"/><rect x="1075.19" y="1315.59" width="3.42" height="19.21" fill="#bb73b5"/><rect x="1078.61" y="1322.01" width="3.42" height="12.79" fill="#bb73b5"/><rect x="1082.03" y="1326.28" width="4.28" height="8.52" fill="#bb73b5"/><rect x="1086.31" y="1328.85" width="5.99" height="5.95" fill="#bb73b5"/><rect x="1092.30" y="1331.42" width="8.56" height="3.38" fill="#bb73b5"/><rect x="1316.90" y="1329.28" width="14.97" height="5.52" fill="#bb73b5"/><rect x="799.25" y="1333.56" width="12.83" height="1.24" fill="#bb73b5"/><rect x="820.64" y="1332.27" width="12.83" height="2.53" fill="#bb73b5"/><rect x="835.61" y="1333.56" width="12.83" height="1.24" fill="#bb73b5"/><rect x="857.01" y="1333.13" width="8.56" height="1.67" fill="#bb73b5"/><rect x="916.90" y="1333.13" width="8.56" height="1.67" fill="#bb73b5"/><rect x="927.59" y="1332.70" width="23.53" height="2.10" fill="#bb73b5"/><rect x="974.65" y="1333.13" width="14.97" height="1.67" fill="#bb73b5"/><rect x="1015.29" y="1333.56" width="12.83" height="1.24" fill="#bb73b5"/><rect x="1036.68" y="1332.70" width="17.11" height="2.10" fill="#bb73b5"/><rect x="1053.80" y="1331.84" width="12.83" height="2.96" fill="#bb73b5"/><rect x="1100.86" y="1333.13" width="8.56" height="1.67" fill="#bb73b5"/><rect x="1124.39" y="1333.13" width="27.81" height="1.67" fill="#bb73b5"/><rect x="1165.03" y="1333.56" width="14.97" height="1.24" fill="#bb73b5"/><rect x="1229.20" y="1333.13" width="12.83" height="1.67" fill="#bb73b5"/><rect x="1244.17" y="1333.13" width="25.67" height="1.67" fill="#bb73b5"/><rect x="1370.37" y="1333.13" width="12.83" height="1.67" fill="#bb73b5"/><rect x="1387.49" y="1332.70" width="23.53" height="2.10" fill="#bb73b5"/><rect x="868.87" y="1331.84" width="0.97" height="2.96" fill="#9d4697"/><rect x="869.84" y="1316.46" width="2.48" height="18.34" fill="#9d4697"/><rect x="872.41" y="1281.35" width="1.33" height="53.45" fill="#9d4697"/><rect x="873.73" y="1289.43" width="1.24" height="45.37" fill="#9d4697"/><rect x="876.19" y="1263.97" width="1.35" height="70.83" fill="#9d4697"/><rect x="877.54" y="1266.04" width="1.90" height="68.76" fill="#9d4697"/><rect x="884.58" y="1304.10" width="0.66" height="30.70" fill="#9d4697"/><rect x="885.24" y="1318.62" width="1.79" height="16.18" fill="#9d4697"/><rect x="887.03" y="1318.77" width="0.78" height="16.03" fill="#9d4697"/><rect x="887.81" y="1325.16" width="2.57" height="9.64" fill="#9d4697"/><rect x="892.18" y="1328.59" width="0.76" height="6.21" fill="#9d4697"/><rect x="892.94" y="1330.56" width="1.10" height="4.24" fill="#9d4697"/><rect x="896.36" y="1329.71" width="1.83" height="5.09" fill="#9d4697"/><rect x="898.19" y="1329.71" width="1.72" height="5.09" fill="#9d4697"/><rect x="899.91" y="1329.71" width="2.94" height="5.09" fill="#9d4697"/><rect x="902.86" y="1329.71" width="1.65" height="5.09" fill="#9d4697"/><rect x="907.46" y="1329.71" width="0.88" height="5.09" fill="#9d4697"/><rect x="914.61" y="1331.84" width="1.14" height="2.96" fill="#9d4697"/><rect x="1074.11" y="1311.49" width="1.08" height="23.31" fill="#9d4697"/><rect x="1075.19" y="1320.91" width="1.94" height="13.89" fill="#9d4697"/><rect x="1077.13" y="1315.97" width="1.48" height="18.83" fill="#9d4697"/><rect x="1078.61" y="1325.45" width="3.38" height="9.35" fill="#9d4697"/><rect x="1082.03" y="1327.45" width="2.32" height="7.35" fill="#9d4697"/><rect x="1084.35" y="1327.76" width="1.96" height="7.04" fill="#9d4697"/><rect x="1086.31" y="1328.85" width="3.25" height="5.95" fill="#9d4697"/><rect x="1092.30" y="1331.42" width="2.72" height="3.38" fill="#9d4697"/><rect x="1097.75" y="1331.42" width="2.60" height="3.38" fill="#9d4697"/><rect x="1100.35" y="1331.42" width="0.51" height="3.38" fill="#9d4697"/><rect x="1316.90" y="1329.28" width="2.93" height="5.52" fill="#9d4697"/><rect x="1323.47" y="1329.28" width="1.83" height="5.52" fill="#9d4697"/><rect x="1325.30" y="1329.28" width="3.09" height="5.52" fill="#9d4697"/><rect x="1328.39" y="1329.28" width="3.38" height="5.52" fill="#9d4697"/><rect x="799.25" y="1333.56" width="2.41" height="1.24" fill="#9d4697"/><rect x="801.66" y="1333.56" width="1.59" height="1.24" fill="#9d4697"/><rect x="803.24" y="1333.56" width="2.18" height="1.24" fill="#9d4697"/><rect x="805.42" y="1333.56" width="2.80" height="1.24" fill="#9d4697"/><rect x="820.64" y="1332.27" width="1.43" height="2.53" fill="#9d4697"/><rect x="822.07" y="1332.27" width="2.06" height="2.53" fill="#9d4697"/><rect x="824.13" y="1332.27" width="2.75" height="2.53" fill="#9d4697"/><rect x="826.88" y="1332.27" width="2.72" height="2.53" fill="#9d4697"/><rect x="829.60" y="1332.27" width="2.39" height="2.53" fill="#9d4697"/><rect x="836.83" y="1333.56" width="3.16" height="1.24" fill="#9d4697"/><rect x="842.93" y="1333.56" width="2.51" height="1.24" fill="#9d4697"/><rect x="845.44" y="1333.56" width="1.80" height="1.24" fill="#9d4697"/><rect x="857.01" y="1333.13" width="1.85" height="1.67" fill="#9d4697"/><rect x="860.91" y="1333.13" width="2.19" height="1.67" fill="#9d4697"/><rect x="863.10" y="1333.13" width="1.64" height="1.67" fill="#9d4697"/><rect x="864.74" y="1333.13" width="0.82" height="1.67" fill="#9d4697"/><rect x="918.56" y="1333.13" width="2.26" height="1.67" fill="#9d4697"/><rect x="920.81" y="1333.13" width="2.16" height="1.67" fill="#9d4697"/><rect x="922.97" y="1333.13" width="2.42" height="1.67" fill="#9d4697"/><rect x="927.59" y="1332.70" width="3.15" height="2.10" fill="#9d4697"/><rect x="930.74" y="1332.70" width="3.13" height="2.10" fill="#9d4697"/><rect x="938.43" y="1332.70" width="1.69" height="2.10" fill="#9d4697"/><rect x="944.70" y="1332.70" width="1.73" height="2.10" fill="#9d4697"/><rect x="974.65" y="1333.13" width="3.28" height="1.67" fill="#9d4697"/><rect x="977.93" y="1333.13" width="1.05" height="1.67" fill="#9d4697"/><rect x="984.92" y="1333.13" width="3.05" height="1.67" fill="#9d4697"/><rect x="987.98" y="1333.13" width="1.65" height="1.67" fill="#9d4697"/><rect x="1015.29" y="1333.56" width="1.34" height="1.24" fill="#9d4697"/><rect x="1016.63" y="1333.56" width="3.14" height="1.24" fill="#9d4697"/><rect x="1019.77" y="1333.56" width="2.07" height="1.24" fill="#9d4697"/><rect x="1021.84" y="1333.56" width="2.55" height="1.24" fill="#9d4697"/><rect x="1024.39" y="1333.56" width="3.15" height="1.24" fill="#9d4697"/><rect x="1044.78" y="1332.70" width="1.32" height="2.10" fill="#9d4697"/><rect x="1049.04" y="1332.70" width="1.10" height="2.10" fill="#9d4697"/><rect x="1052.95" y="1332.70" width="0.85" height="2.10" fill="#9d4697"/><rect x="1053.80" y="1331.84" width="2.02" height="2.96" fill="#9d4697"/><rect x="1055.81" y="1331.84" width="1.79" height="2.96" fill="#9d4697"/><rect x="1057.60" y="1331.84" width="3.06" height="2.96" fill="#9d4697"/><rect x="1060.66" y="1331.84" width="2.04" height="2.96" fill="#9d4697"/><rect x="1064.48" y="1331.84" width="2.11" height="2.96" fill="#9d4697"/><rect x="1100.86" y="1333.13" width="3.05" height="1.67" fill="#9d4697"/><rect x="1103.91" y="1333.13" width="3.42" height="1.67" fill="#9d4697"/><rect x="1107.33" y="1333.13" width="2.08" height="1.67" fill="#9d4697"/><rect x="1130.36" y="1333.13" width="2.08" height="1.67" fill="#9d4697"/><rect x="1132.43" y="1333.13" width="3.10" height="1.67" fill="#9d4697"/><rect x="1135.54" y="1333.13" width="1.96" height="1.67" fill="#9d4697"/><rect x="1137.49" y="1333.13" width="1.09" height="1.67" fill="#9d4697"/><rect x="1144.79" y="1333.13" width="1.68" height="1.67" fill="#9d4697"/><rect x="1146.47" y="1333.13" width="2.51" height="1.67" fill="#9d4697"/><rect x="1148.97" y="1333.13" width="2.47" height="1.67" fill="#9d4697"/><rect x="1151.44" y="1333.13" width="0.75" height="1.67" fill="#9d4697"/><rect x="1165.03" y="1333.56" width="1.17" height="1.24" fill="#9d4697"/><rect x="1169.33" y="1333.56" width="2.88" height="1.24" fill="#9d4697"/><rect x="1172.21" y="1333.56" width="2.33" height="1.24" fill="#9d4697"/><rect x="1176.41" y="1333.56" width="1.67" height="1.24" fill="#9d4697"/><rect x="1178.08" y="1333.56" width="1.92" height="1.24" fill="#9d4697"/><rect x="1229.20" y="1333.13" width="2.98" height="1.67" fill="#9d4697"/><rect x="1232.17" y="1333.13" width="3.41" height="1.67" fill="#9d4697"/><rect x="1235.58" y="1333.13" width="2.98" height="1.67" fill="#9d4697"/><rect x="1238.56" y="1333.13" width="3.25" height="1.67" fill="#9d4697"/><rect x="1246.89" y="1333.13" width="2.67" height="1.67" fill="#9d4697"/><rect x="1254.14" y="1333.13" width="1.20" height="1.67" fill="#9d4697"/><rect x="1261.72" y="1333.13" width="2.28" height="1.67" fill="#9d4697"/><rect x="1370.37" y="1333.13" width="2.83" height="1.67" fill="#9d4697"/><rect x="1373.20" y="1333.13" width="3.05" height="1.67" fill="#9d4697"/><rect x="1376.25" y="1333.13" width="1.54" height="1.67" fill="#9d4697"/><rect x="1377.80" y="1333.13" width="2.66" height="1.67" fill="#9d4697"/><rect x="1380.45" y="1333.13" width="2.75" height="1.67" fill="#9d4697"/><rect x="1390.51" y="1332.70" width="2.42" height="2.10" fill="#9d4697"/><rect x="1397.28" y="1332.70" width="1.88" height="2.10" fill="#9d4697"/><rect x="1403.48" y="1332.70" width="1.20" height="2.10" fill="#9d4697"/><rect x="1404.68" y="1332.70" width="2.68" height="2.10" fill="#9d4697"/><rect x="1407.36" y="1332.70" width="3.08" height="2.10" fill="#9d4697"/>
<text x="798.02" y="1269.80" font-size="20.80" fill="#000" stroke="#000" stroke-width="0.29" textLength="55.06" lengthAdjust="spacingAndGlyphs"><tspan>(0-11)</tspan></text>
<text x="1293.36" y="1278.40" font-size="20.80" fill="#000" stroke="#000" stroke-width="0.29" textLength="119.09" lengthAdjust="spacingAndGlyphs"><tspan>AHR-IP (WT)</tspan></text>
<line x1="796.5" y1="1419.3" x2="1412.4" y2="1419.3" stroke="#6a72bd" stroke-width="1"/>
<rect x="865.56" y="1413.98" width="29.09" height="5.12" fill="#2f3a9b"/><rect x="873.26" y="1406.71" width="5.99" height="12.39" fill="#2f3a9b"/><rect x="879.25" y="1409.71" width="6.84" height="9.39" fill="#2f3a9b"/><rect x="928.88" y="1413.98" width="23.53" height="5.12" fill="#2f3a9b"/><rect x="937.43" y="1406.71" width="5.13" height="12.39" fill="#2f3a9b"/><rect x="1023.85" y="1414.84" width="8.56" height="4.26" fill="#2f3a9b"/><rect x="1075.19" y="1414.84" width="22.25" height="4.26" fill="#2f3a9b"/><rect x="1153.05" y="1414.84" width="14.12" height="4.26" fill="#2f3a9b"/><rect x="1279.25" y="1414.84" width="14.12" height="4.26" fill="#2f3a9b"/>
<text x="798.02" y="1354.00" font-size="20.80" fill="#000" stroke="#000" stroke-width="0.29" textLength="55.06" lengthAdjust="spacingAndGlyphs"><tspan>(0-11)</tspan></text>
<text x="1245.46" y="1357.50" font-size="20.80" fill="#000" stroke="#000" stroke-width="0.29" textLength="164.69" lengthAdjust="spacingAndGlyphs"><tspan>AHR-IP (AHR KO)</tspan></text>
<path d="M796.50 1504.00 L796.50 1502.83 L798.04 1502.83 L798.04 1502.45 L799.89 1502.45 L799.89 1502.34 L801.00 1502.34 L801.00 1501.81 L802.68 1501.81 L802.68 1501.66 L804.67 1501.66 L804.67 1503.08 L807.19 1503.08 L807.19 1502.90 L808.45 1502.90 L808.45 1502.13 L809.78 1502.13 L809.78 1503.04 L811.65 1503.04 L811.65 1502.35 L813.72 1502.35 L813.72 1502.56 L815.45 1502.56 L815.45 1502.14 L816.86 1502.14 L816.86 1502.58 L819.01 1502.58 L819.01 1501.90 L820.69 1501.90 L820.69 1502.01 L821.79 1502.01 L821.79 1502.53 L824.16 1502.53 L824.16 1502.31 L826.08 1502.31 L826.08 1502.02 L827.84 1502.02 L827.84 1501.61 L829.86 1501.61 L829.86 1502.01 L831.49 1502.01 L831.49 1502.91 L832.79 1502.91 L832.79 1502.65 L834.03 1502.65 L834.03 1502.32 L835.20 1502.32 L835.20 1501.76 L837.48 1501.76 L837.48 1501.74 L839.07 1501.74 L839.07 1502.68 L840.39 1502.68 L840.39 1502.62 L842.32 1502.62 L842.32 1502.15 L843.92 1502.15 L843.92 1502.08 L845.75 1502.08 L845.75 1501.87 L848.15 1501.87 L848.15 1502.40 L849.78 1502.40 L849.78 1503.03 L850.93 1503.03 L850.93 1503.07 L852.49 1503.07 L852.49 1502.45 L853.69 1502.45 L853.69 1502.84 L855.66 1502.84 L855.66 1502.89 L857.26 1502.89 L857.26 1502.27 L859.01 1502.27 L859.01 1502.62 L860.57 1502.62 L860.57 1501.66 L861.66 1501.66 L861.66 1503.15 L863.52 1503.15 L863.52 1501.98 L865.86 1501.98 L865.86 1501.88 L867.17 1501.88 L867.17 1502.69 L868.71 1502.69 L868.71 1501.84 L871.04 1501.84 L871.04 1502.22 L872.43 1502.22 L872.43 1502.59 L873.52 1502.59 L873.52 1502.32 L876.01 1502.32 L876.01 1502.45 L878.49 1502.45 L878.49 1502.73 L879.83 1502.73 L879.83 1502.28 L882.14 1502.28 L882.14 1502.02 L883.32 1502.02 L883.32 1502.28 L885.50 1502.28 L885.50 1501.84 L887.05 1501.84 L887.05 1501.66 L888.70 1501.66 L888.70 1502.83 L889.94 1502.83 L889.94 1501.81 L891.21 1501.81 L891.21 1502.18 L892.78 1502.18 L892.78 1502.04 L895.29 1502.04 L895.29 1501.75 L896.99 1501.75 L896.99 1502.57 L898.42 1502.57 L898.42 1502.37 L899.86 1502.37 L899.86 1502.31 L901.44 1502.31 L901.44 1501.70 L903.12 1501.70 L903.12 1503.18 L904.95 1503.18 L904.95 1501.84 L906.01 1501.84 L906.01 1502.17 L908.15 1502.17 L908.15 1501.86 L910.03 1501.86 L910.03 1502.60 L911.45 1502.60 L911.45 1501.89 L913.35 1501.89 L913.35 1502.24 L915.31 1502.24 L915.31 1502.20 L917.04 1502.20 L917.04 1501.75 L919.14 1501.75 L919.14 1501.67 L921.03 1501.67 L921.03 1502.33 L922.26 1502.33 L922.26 1502.01 L923.42 1502.01 L923.42 1501.95 L924.70 1501.95 L924.70 1501.64 L927.08 1501.64 L927.08 1502.26 L928.73 1502.26 L928.73 1502.35 L930.02 1502.35 L930.02 1502.53 L931.36 1502.53 L931.36 1502.33 L933.24 1502.33 L933.24 1502.23 L935.23 1502.23 L935.23 1501.63 L937.46 1501.63 L937.46 1501.87 L938.57 1501.87 L938.57 1501.71 L940.25 1501.71 L940.25 1501.70 L941.53 1501.70 L941.53 1503.05 L942.71 1503.05 L942.71 1501.67 L943.87 1501.67 L943.87 1501.77 L945.05 1501.77 L945.05 1502.49 L946.78 1502.49 L946.78 1502.88 L948.23 1502.88 L948.23 1502.81 L949.44 1502.81 L949.44 1502.55 L950.96 1502.55 L950.96 1502.78 L952.76 1502.78 L952.76 1503.19 L954.19 1503.19 L954.19 1502.28 L955.52 1502.28 L955.52 1502.35 L957.80 1502.35 L957.80 1502.24 L959.44 1502.24 L959.44 1501.80 L961.00 1501.80 L961.00 1502.48 L962.66 1502.48 L962.66 1501.92 L963.82 1501.92 L963.82 1501.79 L964.99 1501.79 L964.99 1502.66 L966.47 1502.66 L966.47 1502.33 L967.75 1502.33 L967.75 1502.18 L970.26 1502.18 L970.26 1502.46 L971.78 1502.46 L971.78 1502.24 L973.54 1502.24 L973.54 1502.62 L974.60 1502.62 L974.60 1503.16 L975.71 1503.16 L975.71 1502.20 L977.64 1502.20 L977.64 1501.74 L979.76 1501.74 L979.76 1502.84 L982.29 1502.84 L982.29 1501.80 L983.40 1501.80 L983.40 1501.83 L985.55 1501.83 L985.55 1501.80 L987.36 1501.80 L987.36 1501.73 L989.29 1501.73 L989.29 1503.13 L990.68 1503.13 L990.68 1501.80 L991.89 1501.80 L991.89 1502.00 L993.88 1502.00 L993.88 1501.91 L996.12 1501.91 L996.12 1503.03 L998.16 1503.03 L998.16 1502.62 L999.33 1502.62 L999.33 1501.63 L1001.48 1501.63 L1001.48 1501.99 L1003.25 1501.99 L1003.25 1503.00 L1005.27 1503.00 L1005.27 1502.55 L1007.43 1502.55 L1007.43 1502.61 L1008.57 1502.61 L1008.57 1502.57 L1010.64 1502.57 L1010.64 1502.90 L1012.39 1502.90 L1012.39 1501.68 L1014.90 1501.68 L1014.90 1501.64 L1017.18 1501.64 L1017.18 1501.66 L1018.55 1501.66 L1018.55 1502.21 L1019.81 1502.21 L1019.81 1502.23 L1022.09 1502.23 L1022.09 1501.72 L1023.49 1501.72 L1023.49 1502.26 L1024.54 1502.26 L1024.54 1502.48 L1025.80 1502.48 L1025.80 1501.91 L1026.86 1501.91 L1026.86 1501.95 L1029.30 1501.95 L1029.30 1502.41 L1030.91 1502.41 L1030.91 1502.35 L1032.50 1502.35 L1032.50 1501.80 L1033.70 1501.80 L1033.70 1502.62 L1035.12 1502.62 L1035.12 1501.65 L1036.73 1501.65 L1036.73 1501.70 L1038.73 1501.70 L1038.73 1503.08 L1040.86 1503.08 L1040.86 1502.04 L1043.04 1502.04 L1043.04 1502.88 L1045.48 1502.88 L1045.48 1501.92 L1046.97 1501.92 L1046.97 1502.56 L1049.01 1502.56 L1049.01 1502.81 L1050.31 1502.81 L1050.31 1502.70 L1052.10 1502.70 L1052.10 1502.86 L1053.83 1502.86 L1053.83 1502.97 L1055.39 1502.97 L1055.39 1501.73 L1057.30 1501.73 L1057.30 1502.21 L1058.97 1502.21 L1058.97 1502.60 L1060.11 1502.60 L1060.11 1502.06 L1061.92 1502.06 L1061.92 1502.65 L1063.37 1502.65 L1063.37 1501.78 L1065.85 1501.78 L1065.85 1501.96 L1066.95 1501.96 L1066.95 1503.28 L1068.88 1503.28 L1068.88 1501.77 L1071.17 1501.77 L1071.17 1502.83 L1072.38 1502.83 L1072.38 1501.94 L1074.85 1501.94 L1074.85 1502.17 L1076.58 1502.17 L1076.58 1501.70 L1077.98 1501.70 L1077.98 1502.64 L1079.22 1502.64 L1079.22 1503.02 L1080.44 1503.02 L1080.44 1502.69 L1082.07 1502.69 L1082.07 1502.30 L1083.58 1502.30 L1083.58 1502.28 L1085.95 1502.28 L1085.95 1501.97 L1088.44 1501.97 L1088.44 1502.00 L1090.24 1502.00 L1090.24 1501.69 L1092.29 1501.69 L1092.29 1502.36 L1093.85 1502.36 L1093.85 1501.92 L1096.09 1501.92 L1096.09 1502.54 L1098.60 1502.54 L1098.60 1501.89 L1099.98 1501.89 L1099.98 1502.76 L1101.77 1502.76 L1101.77 1501.66 L1103.82 1501.66 L1103.82 1501.63 L1105.19 1501.63 L1105.19 1502.41 L1106.33 1502.41 L1106.33 1501.60 L1108.48 1501.60 L1108.48 1501.68 L1109.81 1501.68 L1109.81 1502.43 L1111.86 1502.43 L1111.86 1503.25 L1113.16 1503.25 L1113.16 1502.89 L1115.64 1502.89 L1115.64 1501.82 L1117.23 1501.82 L1117.23 1502.28 L1118.35 1502.28 L1118.35 1502.45 L1119.69 1502.45 L1119.69 1501.83 L1121.36 1501.83 L1121.36 1503.04 L1122.46 1503.04 L1122.46 1501.72 L1124.63 1501.72 L1124.63 1502.08 L1127.12 1502.08 L1127.12 1502.60 L1128.64 1502.60 L1128.64 1502.06 L1131.07 1502.06 L1131.07 1502.28 L1132.47 1502.28 L1132.47 1502.64 L1134.10 1502.64 L1134.10 1502.77 L1136.54 1502.77 L1136.54 1501.88 L1138.82 1501.88 L1138.82 1502.46 L1140.35 1502.46 L1140.35 1501.90 L1141.70 1501.90 L1141.70 1502.17 L1142.80 1502.17 L1142.80 1501.61 L1145.18 1501.61 L1145.18 1502.25 L1146.37 1502.25 L1146.37 1502.37 L1147.77 1502.37 L1147.77 1501.78 L1149.94 1501.78 L1149.94 1502.57 L1152.25 1502.57 L1152.25 1502.74 L1154.41 1502.74 L1154.41 1501.74 L1155.69 1501.74 L1155.69 1501.61 L1157.34 1501.61 L1157.34 1502.03 L1159.60 1502.03 L1159.60 1501.82 L1161.36 1501.82 L1161.36 1502.57 L1162.47 1502.57 L1162.47 1502.13 L1164.98 1502.13 L1164.98 1502.32 L1167.33 1502.32 L1167.33 1502.93 L1169.80 1502.93 L1169.80 1502.44 L1171.17 1502.44 L1171.17 1502.11 L1172.61 1502.11 L1172.61 1502.51 L1173.67 1502.51 L1173.67 1502.73 L1175.19 1502.73 L1175.19 1502.94 L1176.34 1502.94 L1176.34 1502.97 L1178.35 1502.97 L1178.35 1502.59 L1180.01 1502.59 L1180.01 1502.15 L1181.53 1502.15 L1181.53 1501.60 L1183.88 1501.60 L1183.88 1502.73 L1186.02 1502.73 L1186.02 1501.82 L1187.70 1501.82 L1187.70 1502.81 L1189.44 1502.81 L1189.44 1501.71 L1191.46 1501.71 L1191.46 1502.24 L1193.06 1502.24 L1193.06 1501.69 L1194.89 1501.69 L1194.89 1501.64 L1197.15 1501.64 L1197.15 1501.63 L1199.62 1501.63 L1199.62 1502.41 L1202.05 1502.41 L1202.05 1502.81 L1204.34 1502.81 L1204.34 1501.79 L1206.00 1501.79 L1206.00 1502.40 L1207.38 1502.40 L1207.38 1502.65 L1208.61 1502.65 L1208.61 1502.16 L1209.72 1502.16 L1209.72 1502.90 L1212.03 1502.90 L1212.03 1502.55 L1214.02 1502.55 L1214.02 1502.03 L1215.71 1502.03 L1215.71 1502.08 L1216.79 1502.08 L1216.79 1501.87 L1218.99 1501.87 L1218.99 1502.93 L1220.75 1502.93 L1220.75 1502.33 L1221.94 1502.33 L1221.94 1502.99 L1223.94 1502.99 L1223.94 1503.06 L1225.76 1503.06 L1225.76 1502.86 L1228.23 1502.86 L1228.23 1501.82 L1230.38 1501.82 L1230.38 1501.65 L1232.17 1501.65 L1232.17 1501.68 L1234.40 1501.68 L1234.40 1502.82 L1236.59 1502.82 L1236.59 1502.85 L1238.86 1502.85 L1238.86 1502.62 L1240.22 1502.62 L1240.22 1502.77 L1241.33 1502.77 L1241.33 1501.73 L1243.40 1501.73 L1243.40 1502.20 L1244.62 1502.20 L1244.62 1502.17 L1246.98 1502.17 L1246.98 1501.61 L1248.19 1501.61 L1248.19 1502.62 L1250.43 1502.62 L1250.43 1501.89 L1252.02 1501.89 L1252.02 1503.08 L1254.19 1503.08 L1254.19 1501.62 L1256.20 1501.62 L1256.20 1503.26 L1257.72 1503.26 L1257.72 1502.35 L1259.69 1502.35 L1259.69 1502.68 L1260.94 1502.68 L1260.94 1502.47 L1261.99 1502.47 L1261.99 1502.13 L1263.38 1502.13 L1263.38 1502.28 L1265.37 1502.28 L1265.37 1502.84 L1266.78 1502.84 L1266.78 1501.87 L1269.14 1501.87 L1269.14 1502.04 L1270.20 1502.04 L1270.20 1502.33 L1272.22 1502.33 L1272.22 1501.72 L1273.65 1501.72 L1273.65 1502.67 L1275.30 1502.67 L1275.30 1502.17 L1276.37 1502.17 L1276.37 1502.09 L1277.72 1502.09 L1277.72 1502.78 L1279.99 1502.78 L1279.99 1501.73 L1281.12 1501.73 L1281.12 1501.79 L1282.18 1501.79 L1282.18 1502.32 L1284.34 1502.32 L1284.34 1503.11 L1285.74 1503.11 L1285.74 1501.79 L1287.83 1501.79 L1287.83 1502.34 L1289.71 1502.34 L1289.71 1502.05 L1291.16 1502.05 L1291.16 1503.19 L1293.53 1503.19 L1293.53 1501.67 L1295.69 1501.67 L1295.69 1502.51 L1298.06 1502.51 L1298.06 1501.98 L1300.06 1501.98 L1300.06 1501.79 L1301.81 1501.79 L1301.81 1501.94 L1303.52 1501.94 L1303.52 1502.07 L1304.89 1502.07 L1304.89 1503.15 L1306.15 1503.15 L1306.15 1502.85 L1307.72 1502.85 L1307.72 1502.06 L1309.81 1502.06 L1309.81 1502.12 L1310.96 1502.12 L1310.96 1501.73 L1313.24 1501.73 L1313.24 1501.67 L1315.66 1501.67 L1315.66 1503.12 L1316.88 1503.12 L1316.88 1501.81 L1318.88 1501.81 L1318.88 1502.95 L1320.08 1502.95 L1320.08 1502.36 L1321.61 1502.36 L1321.61 1501.95 L1323.08 1501.95 L1323.08 1502.24 L1325.58 1502.24 L1325.58 1502.38 L1326.67 1502.38 L1326.67 1501.97 L1328.24 1501.97 L1328.24 1502.97 L1330.59 1502.97 L1330.59 1502.73 L1331.64 1502.73 L1331.64 1502.26 L1332.70 1502.26 L1332.70 1502.25 L1334.02 1502.25 L1334.02 1501.67 L1335.46 1501.67 L1335.46 1502.25 L1337.56 1502.25 L1337.56 1501.86 L1338.73 1501.86 L1338.73 1502.47 L1340.73 1502.47 L1340.73 1502.98 L1343.11 1502.98 L1343.11 1502.62 L1344.47 1502.62 L1344.47 1501.74 L1346.09 1501.74 L1346.09 1501.90 L1347.94 1501.90 L1347.94 1502.51 L1349.51 1502.51 L1349.51 1501.92 L1351.55 1501.92 L1351.55 1502.13 L1353.76 1502.13 L1353.76 1502.67 L1356.14 1502.67 L1356.14 1501.79 L1358.25 1501.79 L1358.25 1502.51 L1359.67 1502.51 L1359.67 1502.76 L1361.21 1502.76 L1361.21 1501.64 L1362.41 1501.64 L1362.41 1501.85 L1364.94 1501.85 L1364.94 1502.05 L1366.28 1502.05 L1366.28 1503.12 L1367.91 1503.12 L1367.91 1502.25 L1370.00 1502.25 L1370.00 1502.10 L1371.27 1502.10 L1371.27 1502.35 L1373.68 1502.35 L1373.68 1502.68 L1375.36 1502.68 L1375.36 1501.97 L1377.57 1501.97 L1377.57 1502.31 L1379.58 1502.31 L1379.58 1502.37 L1380.78 1502.37 L1380.78 1502.64 L1382.78 1502.64 L1382.78 1502.38 L1384.76 1502.38 L1384.76 1502.03 L1386.08 1502.03 L1386.08 1501.63 L1387.87 1501.63 L1387.87 1501.87 L1389.16 1501.87 L1389.16 1502.14 L1390.36 1502.14 L1390.36 1502.05 L1392.18 1502.05 L1392.18 1501.66 L1393.84 1501.66 L1393.84 1501.89 L1395.48 1501.89 L1395.48 1503.05 L1397.07 1503.05 L1397.07 1502.37 L1398.14 1502.37 L1398.14 1502.62 L1399.71 1502.62 L1399.71 1502.21 L1402.17 1502.21 L1402.17 1502.71 L1403.81 1502.71 L1403.81 1502.06 L1406.08 1502.06 L1406.08 1501.64 L1407.47 1501.64 L1407.47 1501.82 L1409.74 1501.82 L1409.74 1502.89 L1411.62 1502.89 L1411.62 1502.61 L1412.40 1502.61 L1412.40 1504.00 Z" fill="#8c8c8c"/><path d="M796.50 1504.00 L796.50 1502.84 L798.04 1502.84 L798.04 1503.05 L799.89 1503.05 L799.89 1503.29 L801.00 1503.29 L801.00 1503.17 L802.68 1503.17 L802.68 1502.70 L804.67 1502.70 L804.67 1503.08 L807.19 1503.08 L807.19 1502.90 L808.45 1502.90 L808.45 1502.67 L809.78 1502.67 L809.78 1503.23 L811.65 1503.23 L811.65 1502.80 L813.72 1502.80 L813.72 1502.56 L815.45 1502.56 L815.45 1502.45 L816.86 1502.45 L816.86 1502.58 L819.01 1502.58 L819.01 1502.99 L820.69 1502.99 L820.69 1502.44 L821.79 1502.44 L821.79 1502.53 L824.16 1502.53 L824.16 1502.31 L826.08 1502.31 L826.08 1502.93 L827.84 1502.93 L827.84 1502.57 L829.86 1502.57 L829.86 1503.10 L831.49 1503.10 L831.49 1502.91 L832.79 1502.91 L832.79 1502.65 L834.03 1502.65 L834.03 1502.43 L835.20 1502.43 L835.20 1502.93 L837.48 1502.93 L837.48 1502.54 L839.07 1502.54 L839.07 1502.92 L840.39 1502.92 L840.39 1503.15 L842.32 1503.15 L842.32 1502.22 L843.92 1502.22 L843.92 1502.83 L845.75 1502.83 L845.75 1502.22 L848.15 1502.22 L848.15 1502.94 L849.78 1502.94 L849.78 1503.14 L850.93 1503.14 L850.93 1503.31 L852.49 1503.31 L852.49 1502.85 L853.69 1502.85 L853.69 1502.99 L855.66 1502.99 L855.66 1502.89 L857.26 1502.89 L857.26 1503.27 L859.01 1503.27 L859.01 1502.64 L860.57 1502.64 L860.57 1502.89 L861.66 1502.89 L861.66 1503.15 L863.52 1503.15 L863.52 1502.97 L865.86 1502.97 L865.86 1502.51 L867.17 1502.51 L867.17 1502.69 L868.71 1502.69 L868.71 1502.30 L871.04 1502.30 L871.04 1503.10 L872.43 1503.10 L872.43 1502.78 L873.52 1502.78 L873.52 1502.32 L876.01 1502.32 L876.01 1503.09 L878.49 1503.09 L878.49 1502.73 L879.83 1502.73 L879.83 1502.40 L882.14 1502.40 L882.14 1502.20 L883.32 1502.20 L883.32 1502.78 L885.50 1502.78 L885.50 1502.39 L887.05 1502.39 L887.05 1502.72 L888.70 1502.72 L888.70 1502.83 L889.94 1502.83 L889.94 1502.22 L891.21 1502.22 L891.21 1503.29 L892.78 1503.29 L892.78 1502.42 L895.29 1502.42 L895.29 1502.61 L896.99 1502.61 L896.99 1502.86 L898.42 1502.86 L898.42 1502.75 L899.86 1502.75 L899.86 1502.39 L901.44 1502.39 L901.44 1502.68 L903.12 1502.68 L903.12 1503.18 L904.95 1503.18 L904.95 1502.98 L906.01 1502.98 L906.01 1502.83 L908.15 1502.83 L908.15 1502.98 L910.03 1502.98 L910.03 1502.60 L911.45 1502.60 L911.45 1502.40 L913.35 1502.40 L913.35 1502.57 L915.31 1502.57 L915.31 1502.45 L917.04 1502.45 L917.04 1502.49 L919.14 1502.49 L919.14 1502.65 L921.03 1502.65 L921.03 1503.20 L922.26 1503.20 L922.26 1502.23 L923.42 1502.23 L923.42 1502.79 L924.70 1502.79 L924.70 1502.65 L927.08 1502.65 L927.08 1502.26 L928.73 1502.26 L928.73 1502.78 L930.02 1502.78 L930.02 1502.81 L931.36 1502.81 L931.36 1503.19 L933.24 1503.19 L933.24 1502.76 L935.23 1502.76 L935.23 1503.16 L937.46 1503.16 L937.46 1503.11 L938.57 1503.11 L938.57 1502.59 L940.25 1502.59 L940.25 1502.52 L941.53 1502.52 L941.53 1503.05 L942.71 1503.05 L942.71 1502.41 L943.87 1502.41 L943.87 1502.83 L945.05 1502.83 L945.05 1502.49 L946.78 1502.49 L946.78 1502.88 L948.23 1502.88 L948.23 1503.24 L949.44 1503.24 L949.44 1502.62 L950.96 1502.62 L950.96 1503.11 L952.76 1503.11 L952.76 1503.19 L954.19 1503.19 L954.19 1502.59 L955.52 1502.59 L955.52 1502.50 L957.80 1502.50 L957.80 1502.26 L959.44 1502.26 L959.44 1502.45 L961.00 1502.45 L961.00 1503.28 L962.66 1503.28 L962.66 1503.10 L963.82 1503.10 L963.82 1502.30 L964.99 1502.30 L964.99 1502.89 L966.47 1502.89 L966.47 1502.61 L967.75 1502.61 L967.75 1502.63 L970.26 1502.63 L970.26 1503.17 L971.78 1503.17 L971.78 1502.94 L973.54 1502.94 L973.54 1503.09 L974.60 1503.09 L974.60 1503.16 L975.71 1503.16 L975.71 1502.41 L977.64 1502.41 L977.64 1502.89 L979.76 1502.89 L979.76 1502.84 L982.29 1502.84 L982.29 1502.31 L983.40 1502.31 L983.40 1502.97 L985.55 1502.97 L985.55 1502.26 L987.36 1502.26 L987.36 1502.44 L989.29 1502.44 L989.29 1503.13 L990.68 1503.13 L990.68 1502.58 L991.89 1502.58 L991.89 1503.01 L993.88 1503.01 L993.88 1502.68 L996.12 1502.68 L996.12 1503.03 L998.16 1503.03 L998.16 1502.69 L999.33 1502.69 L999.33 1502.78 L1001.48 1502.78 L1001.48 1502.42 L1003.25 1502.42 L1003.25 1503.13 L1005.27 1503.13 L1005.27 1502.94 L1007.43 1502.94 L1007.43 1502.61 L1008.57 1502.61 L1008.57 1502.71 L1010.64 1502.71 L1010.64 1502.90 L1012.39 1502.90 L1012.39 1503.11 L1014.90 1503.11 L1014.90 1502.88 L1017.18 1502.88 L1017.18 1502.88 L1018.55 1502.88 L1018.55 1502.56 L1019.81 1502.56 L1019.81 1502.27 L1022.09 1502.27 L1022.09 1503.00 L1023.49 1503.00 L1023.49 1502.86 L1024.54 1502.86 L1024.54 1502.64 L1025.80 1502.64 L1025.80 1502.66 L1026.86 1502.66 L1026.86 1502.50 L1029.30 1502.50 L1029.30 1502.41 L1030.91 1502.41 L1030.91 1503.15 L1032.50 1503.15 L1032.50 1502.61 L1033.70 1502.61 L1033.70 1502.88 L1035.12 1502.88 L1035.12 1502.21 L1036.73 1502.21 L1036.73 1502.32 L1038.73 1502.32 L1038.73 1503.08 L1040.86 1503.08 L1040.86 1503.14 L1043.04 1503.14 L1043.04 1502.88 L1045.48 1502.88 L1045.48 1502.46 L1046.97 1502.46 L1046.97 1502.72 L1049.01 1502.72 L1049.01 1502.81 L1050.31 1502.81 L1050.31 1502.70 L1052.10 1502.70 L1052.10 1503.19 L1053.83 1503.19 L1053.83 1503.05 L1055.39 1503.05 L1055.39 1502.55 L1057.30 1502.55 L1057.30 1502.90 L1058.97 1502.90 L1058.97 1502.60 L1060.11 1502.60 L1060.11 1502.58 L1061.92 1502.58 L1061.92 1502.81 L1063.37 1502.81 L1063.37 1502.69 L1065.85 1502.69 L1065.85 1502.40 L1066.95 1502.40 L1066.95 1503.28 L1068.88 1503.28 L1068.88 1502.47 L1071.17 1502.47 L1071.17 1502.83 L1072.38 1502.83 L1072.38 1502.42 L1074.85 1502.42 L1074.85 1502.90 L1076.58 1502.90 L1076.58 1502.70 L1077.98 1502.70 L1077.98 1502.64 L1079.22 1502.64 L1079.22 1503.02 L1080.44 1503.02 L1080.44 1502.91 L1082.07 1502.91 L1082.07 1502.30 L1083.58 1502.30 L1083.58 1503.06 L1085.95 1503.06 L1085.95 1503.14 L1088.44 1503.14 L1088.44 1502.91 L1090.24 1502.91 L1090.24 1503.20 L1092.29 1503.20 L1092.29 1502.74 L1093.85 1502.74 L1093.85 1502.87 L1096.09 1502.87 L1096.09 1502.61 L1098.60 1502.61 L1098.60 1502.59 L1099.98 1502.59 L1099.98 1502.97 L1101.77 1502.97 L1101.77 1503.05 L1103.82 1503.05 L1103.82 1503.26 L1105.19 1503.26 L1105.19 1502.41 L1106.33 1502.41 L1106.33 1502.46 L1108.48 1502.46 L1108.48 1502.78 L1109.81 1502.78 L1109.81 1502.90 L1111.86 1502.90 L1111.86 1503.25 L1113.16 1503.25 L1113.16 1502.89 L1115.64 1502.89 L1115.64 1502.48 L1117.23 1502.48 L1117.23 1502.55 L1118.35 1502.55 L1118.35 1502.66 L1119.69 1502.66 L1119.69 1502.76 L1121.36 1502.76 L1121.36 1503.04 L1122.46 1503.04 L1122.46 1502.97 L1124.63 1502.97 L1124.63 1502.76 L1127.12 1502.76 L1127.12 1502.94 L1128.64 1502.94 L1128.64 1502.63 L1131.07 1502.63 L1131.07 1502.28 L1132.47 1502.28 L1132.47 1502.76 L1134.10 1502.76 L1134.10 1502.77 L1136.54 1502.77 L1136.54 1502.72 L1138.82 1502.72 L1138.82 1502.73 L1140.35 1502.73 L1140.35 1503.16 L1141.70 1503.16 L1141.70 1502.55 L1142.80 1502.55 L1142.80 1503.14 L1145.18 1503.14 L1145.18 1502.56 L1146.37 1502.56 L1146.37 1502.50 L1147.77 1502.50 L1147.77 1502.80 L1149.94 1502.80 L1149.94 1502.72 L1152.25 1502.72 L1152.25 1503.05 L1154.41 1503.05 L1154.41 1502.74 L1155.69 1502.74 L1155.69 1502.86 L1157.34 1502.86 L1157.34 1502.55 L1159.60 1502.55 L1159.60 1502.18 L1161.36 1502.18 L1161.36 1503.19 L1162.47 1503.19 L1162.47 1502.43 L1164.98 1502.43 L1164.98 1502.73 L1167.33 1502.73 L1167.33 1502.93 L1169.80 1502.93 L1169.80 1503.16 L1171.17 1503.16 L1171.17 1502.76 L1172.61 1502.76 L1172.61 1502.75 L1173.67 1502.75 L1173.67 1502.73 L1175.19 1502.73 L1175.19 1502.94 L1176.34 1502.94 L1176.34 1502.97 L1178.35 1502.97 L1178.35 1502.59 L1180.01 1502.59 L1180.01 1502.86 L1181.53 1502.86 L1181.53 1502.99 L1183.88 1502.99 L1183.88 1502.85 L1186.02 1502.85 L1186.02 1502.55 L1187.70 1502.55 L1187.70 1503.06 L1189.44 1503.06 L1189.44 1502.96 L1191.46 1502.96 L1191.46 1503.11 L1193.06 1503.11 L1193.06 1503.02 L1194.89 1503.02 L1194.89 1503.17 L1197.15 1503.17 L1197.15 1502.98 L1199.62 1502.98 L1199.62 1502.41 L1202.05 1502.41 L1202.05 1502.81 L1204.34 1502.81 L1204.34 1502.63 L1206.00 1502.63 L1206.00 1502.76 L1207.38 1502.76 L1207.38 1502.65 L1208.61 1502.65 L1208.61 1502.77 L1209.72 1502.77 L1209.72 1502.90 L1212.03 1502.90 L1212.03 1502.71 L1214.02 1502.71 L1214.02 1502.78 L1215.71 1502.78 L1215.71 1502.87 L1216.79 1502.87 L1216.79 1502.93 L1218.99 1502.93 L1218.99 1503.04 L1220.75 1503.04 L1220.75 1502.97 L1221.94 1502.97 L1221.94 1502.99 L1223.94 1502.99 L1223.94 1503.06 L1225.76 1503.06 L1225.76 1502.86 L1228.23 1502.86 L1228.23 1502.66 L1230.38 1502.66 L1230.38 1502.57 L1232.17 1502.57 L1232.17 1503.14 L1234.40 1503.14 L1234.40 1502.82 L1236.59 1502.82 L1236.59 1502.85 L1238.86 1502.85 L1238.86 1502.80 L1240.22 1502.80 L1240.22 1502.77 L1241.33 1502.77 L1241.33 1502.79 L1243.40 1502.79 L1243.40 1502.68 L1244.62 1502.68 L1244.62 1502.41 L1246.98 1502.41 L1246.98 1502.66 L1248.19 1502.66 L1248.19 1502.62 L1250.43 1502.62 L1250.43 1502.94 L1252.02 1502.94 L1252.02 1503.08 L1254.19 1503.08 L1254.19 1502.53 L1256.20 1502.53 L1256.20 1503.28 L1257.72 1503.28 L1257.72 1502.45 L1259.69 1502.45 L1259.69 1502.86 L1260.94 1502.86 L1260.94 1503.10 L1261.99 1503.10 L1261.99 1502.81 L1263.38 1502.81 L1263.38 1502.73 L1265.37 1502.73 L1265.37 1502.94 L1266.78 1502.94 L1266.78 1502.92 L1269.14 1502.92 L1269.14 1502.74 L1270.20 1502.74 L1270.20 1502.33 L1272.22 1502.33 L1272.22 1503.05 L1273.65 1503.05 L1273.65 1502.89 L1275.30 1502.89 L1275.30 1502.56 L1276.37 1502.56 L1276.37 1502.61 L1277.72 1502.61 L1277.72 1502.97 L1279.99 1502.97 L1279.99 1502.34 L1281.12 1502.34 L1281.12 1502.52 L1282.18 1502.52 L1282.18 1503.16 L1284.34 1503.16 L1284.34 1503.11 L1285.74 1503.11 L1285.74 1502.67 L1287.83 1502.67 L1287.83 1502.46 L1289.71 1502.46 L1289.71 1502.50 L1291.16 1502.50 L1291.16 1503.19 L1293.53 1503.19 L1293.53 1502.61 L1295.69 1502.61 L1295.69 1502.66 L1298.06 1502.66 L1298.06 1502.28 L1300.06 1502.28 L1300.06 1502.33 L1301.81 1502.33 L1301.81 1502.76 L1303.52 1502.76 L1303.52 1502.79 L1304.89 1502.79 L1304.89 1503.15 L1306.15 1503.15 L1306.15 1503.35 L1307.72 1503.35 L1307.72 1502.40 L1309.81 1502.40 L1309.81 1502.62 L1310.96 1502.62 L1310.96 1502.83 L1313.24 1502.83 L1313.24 1503.19 L1315.66 1503.19 L1315.66 1503.12 L1316.88 1503.12 L1316.88 1502.72 L1318.88 1502.72 L1318.88 1502.95 L1320.08 1502.95 L1320.08 1503.23 L1321.61 1503.23 L1321.61 1502.91 L1323.08 1502.91 L1323.08 1502.35 L1325.58 1502.35 L1325.58 1502.59 L1326.67 1502.59 L1326.67 1502.84 L1328.24 1502.84 L1328.24 1502.97 L1330.59 1502.97 L1330.59 1502.73 L1331.64 1502.73 L1331.64 1502.53 L1332.70 1502.53 L1332.70 1502.62 L1334.02 1502.62 L1334.02 1503.04 L1335.46 1503.04 L1335.46 1502.93 L1337.56 1502.93 L1337.56 1502.37 L1338.73 1502.37 L1338.73 1502.84 L1340.73 1502.84 L1340.73 1502.98 L1343.11 1502.98 L1343.11 1502.62 L1344.47 1502.62 L1344.47 1502.94 L1346.09 1502.94 L1346.09 1502.41 L1347.94 1502.41 L1347.94 1502.77 L1349.51 1502.77 L1349.51 1503.00 L1351.55 1503.00 L1351.55 1503.02 L1353.76 1503.02 L1353.76 1503.07 L1356.14 1503.07 L1356.14 1503.18 L1358.25 1503.18 L1358.25 1502.89 L1359.67 1502.89 L1359.67 1502.76 L1361.21 1502.76 L1361.21 1503.09 L1362.41 1503.09 L1362.41 1502.55 L1364.94 1502.55 L1364.94 1503.19 L1366.28 1503.19 L1366.28 1503.12 L1367.91 1503.12 L1367.91 1502.62 L1370.00 1502.62 L1370.00 1502.63 L1371.27 1502.63 L1371.27 1502.49 L1373.68 1502.49 L1373.68 1502.68 L1375.36 1502.68 L1375.36 1502.31 L1377.57 1502.31 L1377.57 1502.77 L1379.58 1502.77 L1379.58 1502.37 L1380.78 1502.37 L1380.78 1502.79 L1382.78 1502.79 L1382.78 1502.38 L1384.76 1502.38 L1384.76 1502.54 L1386.08 1502.54 L1386.08 1503.04 L1387.87 1503.04 L1387.87 1502.34 L1389.16 1502.34 L1389.16 1502.54 L1390.36 1502.54 L1390.36 1502.42 L1392.18 1502.42 L1392.18 1502.82 L1393.84 1502.82 L1393.84 1502.71 L1395.48 1502.71 L1395.48 1503.05 L1397.07 1503.05 L1397.07 1502.64 L1398.14 1502.64 L1398.14 1502.78 L1399.71 1502.78 L1399.71 1502.74 L1402.17 1502.74 L1402.17 1502.83 L1403.81 1502.83 L1403.81 1502.69 L1406.08 1502.69 L1406.08 1502.73 L1407.47 1502.73 L1407.47 1502.85 L1409.74 1502.85 L1409.74 1502.89 L1411.62 1502.89 L1411.62 1502.95 L1412.40 1502.95 L1412.40 1504.00 Z" fill="#6a6a6a"/>
<text x="798.02" y="1439.40" font-size="20.80" fill="#000" stroke="#000" stroke-width="0.29" textLength="55.06" lengthAdjust="spacingAndGlyphs"><tspan>(0-11)</tspan></text>
<text x="1316.33" y="1442.80" font-size="20.80" fill="#000" stroke="#000" stroke-width="0.29" textLength="91.45" lengthAdjust="spacingAndGlyphs"><tspan>INPUT_IP</tspan></text>
<rect x="792.8" y="1516.5" width="619.5" height="25.6" fill="#f6f6f6"/>
<line x1="971" y1="1528" x2="1109" y2="1528" stroke="#5860b8" stroke-width="1"/>
<rect x="904.1" y="1523.4" width="32" height="9.1" fill="#363f9e"/>
<rect x="935.5" y="1520" width="36.1" height="15.8" fill="#363f9e"/>
<rect x="1037.4" y="1520" width="20.4" height="15.8" fill="#363f9e"/>
<rect x="1108.6" y="1520" width="69.3" height="15.8" fill="#363f9e"/>
<rect x="1177.9" y="1523.4" width="186.9" height="9.1" fill="#363f9e"/>
<path d="M982.10 1525.75 L984.30 1528.00 L982.10 1530.25" fill="none" stroke="#5860b8" stroke-width="1"/>
<path d="M1007.30 1525.75 L1009.50 1528.00 L1007.30 1530.25" fill="none" stroke="#5860b8" stroke-width="1"/>
<path d="M1032.00 1525.75 L1034.20 1528.00 L1032.00 1530.25" fill="none" stroke="#5860b8" stroke-width="1"/>
<path d="M1068.90 1525.75 L1071.10 1528.00 L1068.90 1530.25" fill="none" stroke="#5860b8" stroke-width="1"/>
<path d="M1095.50 1525.75 L1097.70 1528.00 L1095.50 1530.25" fill="none" stroke="#5860b8" stroke-width="1"/>
<path d="M958.60 1525.75 L960.80 1528.00 L958.60 1530.25" fill="none" stroke="#fff" stroke-width="1"/>
<path d="M1131.90 1525.75 L1134.10 1528.00 L1131.90 1530.25" fill="none" stroke="#fff" stroke-width="1"/>
<path d="M1157.50 1525.75 L1159.70 1528.00 L1157.50 1530.25" fill="none" stroke="#fff" stroke-width="1"/>
<path d="M909.8 1547.2 H979.4 V1573.5 H1041" fill="none" stroke="#000" stroke-width="3.2"/>
<path d="M1049.1 1573.5 L1040.5 1566.8 L1040.5 1580.9 Z" fill="#000"/>
<text x="888.10" y="1583.00" font-size="37.00" fill="#000" stroke="#000" stroke-width="0.52" textLength="85.27" lengthAdjust="spacingAndGlyphs"><tspan>Sox9</tspan></text>
<text x="7.15" y="1155.80" font-size="40.50" fill="#000" stroke="#000" stroke-width="0.57" textLength="14.67" lengthAdjust="spacingAndGlyphs"><tspan font-weight="bold">f</tspan></text>
<text x="177.35" y="1211.10" font-size="28.30" fill="#000" stroke="#000" stroke-width="0.40" textLength="69.99" lengthAdjust="spacingAndGlyphs"><tspan font-style="italic">Cdx2</tspan></text>
<rect x="118.70" y="1375.30" width="27.90" height="150.70" fill="#d6d6d6" stroke="#000" stroke-width="2.2"/><rect x="161.60" y="1290.70" width="27.90" height="235.30" fill="#7a7a7a" stroke="#000" stroke-width="2.2"/><rect x="233.50" y="1396.40" width="27.70" height="129.60" fill="#d6d6d6" stroke="#000" stroke-width="2.2"/><rect x="276.50" y="1367.90" width="27.70" height="158.10" fill="#7a7a7a" stroke="#000" stroke-width="2.2"/><line x1="103.60" y1="1237.00" x2="103.60" y2="1527.20" stroke="#000" stroke-width="2.5"/><line x1="102.40" y1="1526.00" x2="319.00" y2="1526.00" stroke="#000" stroke-width="2.4"/><line x1="93.60" y1="1526.00" x2="103.60" y2="1526.00" stroke="#000" stroke-width="2.2"/><text x="56.49" y="1534.30" font-size="23.60" fill="#000" stroke="#000" stroke-width="0.33" textLength="35.92" lengthAdjust="spacingAndGlyphs"><tspan>0.0</tspan></text><line x1="93.60" y1="1468.40" x2="103.60" y2="1468.40" stroke="#000" stroke-width="2.2"/><text x="56.49" y="1476.70" font-size="23.60" fill="#000" stroke="#000" stroke-width="0.33" textLength="36.00" lengthAdjust="spacingAndGlyphs"><tspan>0.5</tspan></text><line x1="93.60" y1="1410.80" x2="103.60" y2="1410.80" stroke="#000" stroke-width="2.2"/><text x="55.47" y="1419.10" font-size="23.60" fill="#000" stroke="#000" stroke-width="0.33" textLength="36.96" lengthAdjust="spacingAndGlyphs"><tspan>1.0</tspan></text><line x1="93.60" y1="1353.20" x2="103.60" y2="1353.20" stroke="#000" stroke-width="2.2"/><text x="55.47" y="1361.50" font-size="23.60" fill="#000" stroke="#000" stroke-width="0.33" textLength="37.05" lengthAdjust="spacingAndGlyphs"><tspan>1.5</tspan></text><line x1="93.60" y1="1295.60" x2="103.60" y2="1295.60" stroke="#000" stroke-width="2.2"/><text x="56.19" y="1303.90" font-size="23.60" fill="#000" stroke="#000" stroke-width="0.33" textLength="36.23" lengthAdjust="spacingAndGlyphs"><tspan>2.0</tspan></text><line x1="93.60" y1="1238.00" x2="103.60" y2="1238.00" stroke="#000" stroke-width="2.2"/><text x="56.19" y="1246.30" font-size="23.60" fill="#000" stroke="#000" stroke-width="0.33" textLength="36.31" lengthAdjust="spacingAndGlyphs"><tspan>2.5</tspan></text><line x1="153.40" y1="1526.00" x2="153.40" y2="1535.00" stroke="#000" stroke-width="2.2"/><line x1="268.70" y1="1526.00" x2="268.70" y2="1535.00" stroke="#000" stroke-width="2.2"/><circle cx="103.60" cy="1526.30" r="2" fill="#000"/><circle cx="113.20" cy="1526.30" r="2" fill="#000"/><circle cx="122.80" cy="1526.30" r="2" fill="#000"/><circle cx="132.40" cy="1526.30" r="2" fill="#000"/><circle cx="142.00" cy="1526.30" r="2" fill="#000"/><circle cx="151.60" cy="1526.30" r="2" fill="#000"/><circle cx="161.20" cy="1526.30" r="2" fill="#000"/><circle cx="170.80" cy="1526.30" r="2" fill="#000"/><circle cx="180.40" cy="1526.30" r="2" fill="#000"/><circle cx="190.00" cy="1526.30" r="2" fill="#000"/><circle cx="199.60" cy="1526.30" r="2" fill="#000"/><circle cx="209.20" cy="1526.30" r="2" fill="#000"/><circle cx="218.80" cy="1526.30" r="2" fill="#000"/><circle cx="228.40" cy="1526.30" r="2" fill="#000"/><circle cx="238.00" cy="1526.30" r="2" fill="#000"/><circle cx="247.60" cy="1526.30" r="2" fill="#000"/><circle cx="257.20" cy="1526.30" r="2" fill="#000"/><circle cx="266.80" cy="1526.30" r="2" fill="#000"/><circle cx="276.40" cy="1526.30" r="2" fill="#000"/><circle cx="286.00" cy="1526.30" r="2" fill="#000"/><circle cx="295.60" cy="1526.30" r="2" fill="#000"/><circle cx="305.20" cy="1526.30" r="2" fill="#000"/><circle cx="314.80" cy="1526.30" r="2" fill="#000"/><circle cx="123.00" cy="1368.40" r="4.6" fill="#fff" stroke="#000" stroke-width="2.3"/><circle cx="130.00" cy="1368.40" r="4.6" fill="#fff" stroke="#000" stroke-width="2.3"/><circle cx="135.40" cy="1376.80" r="4.6" fill="#fff" stroke="#000" stroke-width="2.3"/><circle cx="140.70" cy="1382.20" r="4.6" fill="#fff" stroke="#000" stroke-width="2.3"/><circle cx="175.30" cy="1254.60" r="4.6" fill="#fff" stroke="#000" stroke-width="2.3"/><circle cx="175.30" cy="1284.60" r="4.6" fill="#fff" stroke="#000" stroke-width="2.3"/><circle cx="175.30" cy="1301.50" r="4.6" fill="#fff" stroke="#000" stroke-width="2.3"/><circle cx="175.30" cy="1319.50" r="4.6" fill="#fff" stroke="#000" stroke-width="2.3"/><circle cx="239.90" cy="1384.50" r="4.6" fill="#fff" stroke="#000" stroke-width="2.3"/><circle cx="253.70" cy="1392.20" r="4.6" fill="#fff" stroke="#000" stroke-width="2.3"/><circle cx="239.90" cy="1397.60" r="4.6" fill="#fff" stroke="#000" stroke-width="2.3"/><circle cx="253.70" cy="1406.80" r="4.6" fill="#fff" stroke="#000" stroke-width="2.3"/><circle cx="283.00" cy="1352.20" r="4.6" fill="#fff" stroke="#000" stroke-width="2.3"/><circle cx="297.60" cy="1357.60" r="4.6" fill="#fff" stroke="#000" stroke-width="2.3"/><circle cx="283.00" cy="1373.00" r="4.6" fill="#fff" stroke="#000" stroke-width="2.3"/><circle cx="297.60" cy="1383.70" r="4.6" fill="#fff" stroke="#000" stroke-width="2.3"/><path d="M130.70 1367.60 V1380.70 M123.20 1367.60 H138.20 M123.20 1380.70 H138.20" stroke="#000" stroke-width="2.3" fill="none" stroke-linecap="round"/><path d="M175.30 1262.60 V1317.20 M167.30 1262.60 H183.30 M167.30 1317.20 H183.30" stroke="#000" stroke-width="2.3" fill="none" stroke-linecap="round"/><path d="M247.60 1385.30 V1405.30 M241.60 1385.30 H253.60 M241.60 1405.30 H253.60" stroke="#000" stroke-width="2.3" fill="none" stroke-linecap="round"/><path d="M290.20 1352.20 V1381.40 M282.20 1352.20 H298.20 M282.20 1381.40 H298.20" stroke="#000" stroke-width="2.3" fill="none" stroke-linecap="round"/>
<text x="134.09" y="1559.00" font-size="25.80" fill="#000" stroke="#000" stroke-width="0.36" textLength="40.21" lengthAdjust="spacingAndGlyphs"><tspan>WT</tspan></text>
<text x="218.25" y="1559.00" font-size="25.80" fill="#000" stroke="#000" stroke-width="0.36" textLength="101.21" lengthAdjust="spacingAndGlyphs"><tspan>AHR KO</tspan></text>
<text x="113.32" y="1233.80" font-size="21.00" fill="#000" stroke="#000" stroke-width="0.29" textLength="72.28" lengthAdjust="spacingAndGlyphs"><tspan>p=0.007</tspan></text>
<path d="M128.7 1313.8 V1240 H173.8" fill="none" stroke="#000" stroke-width="1.9"/>
<text x="249.03" y="1317.20" font-size="20.50" fill="#000" stroke="#000" stroke-width="0.29" textLength="39.63" lengthAdjust="spacingAndGlyphs"><tspan>N.S.</tspan></text>
<line x1="235.3" y1="1327.2" x2="302.6" y2="1327.2" stroke="#000" stroke-width="2"/>
<text x="500.69" y="1215.90" font-size="28.30" fill="#000" stroke="#000" stroke-width="0.40" textLength="65.50" lengthAdjust="spacingAndGlyphs"><tspan font-style="italic">Sox9</tspan></text>
<rect x="440.20" y="1348.70" width="27.80" height="179.30" fill="#d6d6d6" stroke="#000" stroke-width="2.2"/><rect x="483.50" y="1489.30" width="27.20" height="38.70" fill="#7a7a7a" stroke="#000" stroke-width="2.2"/><rect x="554.30" y="1392.90" width="27.80" height="135.10" fill="#d6d6d6" stroke="#000" stroke-width="2.2"/><rect x="597.60" y="1435.50" width="27.20" height="92.50" fill="#7a7a7a" stroke="#000" stroke-width="2.2"/><line x1="425.00" y1="1239.30" x2="425.00" y2="1529.20" stroke="#000" stroke-width="2.5"/><line x1="423.80" y1="1528.00" x2="639.10" y2="1528.00" stroke="#000" stroke-width="2.4"/><line x1="415.00" y1="1528.00" x2="425.00" y2="1528.00" stroke="#000" stroke-width="2.2"/><text x="379.28" y="1536.30" font-size="23.60" fill="#000" stroke="#000" stroke-width="0.33" textLength="36.45" lengthAdjust="spacingAndGlyphs"><tspan>0.0</tspan></text><line x1="415.00" y1="1432.10" x2="425.00" y2="1432.10" stroke="#000" stroke-width="2.2"/><text x="379.27" y="1440.40" font-size="23.60" fill="#000" stroke="#000" stroke-width="0.33" textLength="36.53" lengthAdjust="spacingAndGlyphs"><tspan>0.5</tspan></text><line x1="415.00" y1="1336.20" x2="425.00" y2="1336.20" stroke="#000" stroke-width="2.2"/><text x="378.24" y="1344.50" font-size="23.60" fill="#000" stroke="#000" stroke-width="0.33" textLength="37.51" lengthAdjust="spacingAndGlyphs"><tspan>1.0</tspan></text><line x1="415.00" y1="1240.30" x2="425.00" y2="1240.30" stroke="#000" stroke-width="2.2"/><text x="378.24" y="1248.60" font-size="23.60" fill="#000" stroke="#000" stroke-width="0.33" textLength="37.60" lengthAdjust="spacingAndGlyphs"><tspan>1.5</tspan></text><line x1="475.00" y1="1528.00" x2="475.00" y2="1537.00" stroke="#000" stroke-width="2.2"/><line x1="590.00" y1="1528.00" x2="590.00" y2="1537.00" stroke="#000" stroke-width="2.2"/><circle cx="425.00" cy="1528.30" r="2" fill="#000"/><circle cx="434.60" cy="1528.30" r="2" fill="#000"/><circle cx="444.20" cy="1528.30" r="2" fill="#000"/><circle cx="453.80" cy="1528.30" r="2" fill="#000"/><circle cx="463.40" cy="1528.30" r="2" fill="#000"/><circle cx="473.00" cy="1528.30" r="2" fill="#000"/><circle cx="482.60" cy="1528.30" r="2" fill="#000"/><circle cx="492.20" cy="1528.30" r="2" fill="#000"/><circle cx="501.80" cy="1528.30" r="2" fill="#000"/><circle cx="511.40" cy="1528.30" r="2" fill="#000"/><circle cx="521.00" cy="1528.30" r="2" fill="#000"/><circle cx="530.60" cy="1528.30" r="2" fill="#000"/><circle cx="540.20" cy="1528.30" r="2" fill="#000"/><circle cx="549.80" cy="1528.30" r="2" fill="#000"/><circle cx="559.40" cy="1528.30" r="2" fill="#000"/><circle cx="569.00" cy="1528.30" r="2" fill="#000"/><circle cx="578.60" cy="1528.30" r="2" fill="#000"/><circle cx="588.20" cy="1528.30" r="2" fill="#000"/><circle cx="597.80" cy="1528.30" r="2" fill="#000"/><circle cx="607.40" cy="1528.30" r="2" fill="#000"/><circle cx="617.00" cy="1528.30" r="2" fill="#000"/><circle cx="626.60" cy="1528.30" r="2" fill="#000"/><circle cx="636.20" cy="1528.30" r="2" fill="#000"/><circle cx="453.80" cy="1326.20" r="4.6" fill="#fff" stroke="#000" stroke-width="2.3"/><circle cx="453.80" cy="1349.70" r="4.6" fill="#fff" stroke="#000" stroke-width="2.3"/><circle cx="453.80" cy="1367.40" r="4.6" fill="#fff" stroke="#000" stroke-width="2.3"/><circle cx="496.50" cy="1472.00" r="4.6" fill="#fff" stroke="#000" stroke-width="2.3"/><circle cx="490.00" cy="1494.10" r="4.6" fill="#fff" stroke="#000" stroke-width="2.3"/><circle cx="503.80" cy="1499.10" r="4.6" fill="#fff" stroke="#000" stroke-width="2.3"/><circle cx="568.50" cy="1355.60" r="4.6" fill="#fff" stroke="#000" stroke-width="2.3"/><circle cx="561.80" cy="1409.40" r="4.6" fill="#fff" stroke="#000" stroke-width="2.3"/><circle cx="575.30" cy="1411.50" r="4.6" fill="#fff" stroke="#000" stroke-width="2.3"/><circle cx="611.20" cy="1402.60" r="4.6" fill="#fff" stroke="#000" stroke-width="2.3"/><circle cx="611.20" cy="1438.00" r="4.6" fill="#fff" stroke="#000" stroke-width="2.3"/><circle cx="611.20" cy="1461.80" r="4.6" fill="#fff" stroke="#000" stroke-width="2.3"/><path d="M453.80 1326.20 V1369.10 M446.20 1326.20 H461.40 M446.20 1369.10 H461.40" stroke="#000" stroke-width="2.3" fill="none" stroke-linecap="round"/><path d="M496.50 1474.10 V1502.60 M488.90 1474.10 H504.10 M488.90 1502.60 H504.10" stroke="#000" stroke-width="2.3" fill="none" stroke-linecap="round"/><path d="M568.50 1360.90 V1424.10 M560.90 1360.90 H576.10 M560.90 1424.10 H576.10" stroke="#000" stroke-width="2.3" fill="none" stroke-linecap="round"/><path d="M611.20 1404.40 V1464.40 M603.60 1404.40 H618.80 M603.60 1464.40 H618.80" stroke="#000" stroke-width="2.3" fill="none" stroke-linecap="round"/>
<text x="455.78" y="1560.00" font-size="25.80" fill="#000" stroke="#000" stroke-width="0.36" textLength="40.72" lengthAdjust="spacingAndGlyphs"><tspan>WT</tspan></text>
<text x="539.05" y="1560.00" font-size="25.80" fill="#000" stroke="#000" stroke-width="0.36" textLength="101.32" lengthAdjust="spacingAndGlyphs"><tspan>AHR KO</tspan></text>
<text x="440.71" y="1301.20" font-size="21.00" fill="#000" stroke="#000" stroke-width="0.29" textLength="72.77" lengthAdjust="spacingAndGlyphs"><tspan>p=0.003</tspan></text>
<line x1="446.5" y1="1307.1" x2="506.8" y2="1307.1" stroke="#000" stroke-width="2"/>
<text x="565.30" y="1330.00" font-size="20.50" fill="#000" stroke="#000" stroke-width="0.29" textLength="40.40" lengthAdjust="spacingAndGlyphs"><tspan>N.S.</tspan></text>
<line x1="552.4" y1="1339.7" x2="619.1" y2="1339.7" stroke="#000" stroke-width="2"/>
<rect x="630.1" y="1329.9" width="49.6" height="27" fill="#d6d6d6" stroke="#111" stroke-width="1.4"/>
<rect x="630.1" y="1361.9" width="49.6" height="27.1" fill="#7a7a7a" stroke="#111" stroke-width="1.4"/>
<text x="681.98" y="1349.50" font-size="23.80" fill="#000" stroke="#000" stroke-width="0.33" textLength="70.14" lengthAdjust="spacingAndGlyphs"><tspan>DMSO</tspan></text>
<text x="680.60" y="1384.40" font-size="23.80" fill="#000" stroke="#000" stroke-width="0.33" textLength="51.53" lengthAdjust="spacingAndGlyphs"><tspan>FICZ</tspan></text>
<g transform="translate(30.60 1525.00) rotate(-90)"><text x="-1.36" y="0.00" font-size="26.00" fill="#000" stroke="#000" stroke-width="0.36" textLength="15.02" lengthAdjust="spacingAndGlyphs"><tspan>2</tspan></text><text x="12.27" y="-9.80" font-size="21.00" fill="#000" stroke="#000" stroke-width="0.29" textLength="61.51" lengthAdjust="spacingAndGlyphs"><tspan>−(ΔCT)</tspan></text><text x="80.90" y="0.00" font-size="26.00" fill="#000" stroke="#000" stroke-width="0.36" textLength="208.10" lengthAdjust="spacingAndGlyphs"><tspan>(relative to Hprt)</tspan></text></g>
<g transform="translate(353.30 1523.10) rotate(-90)"><text x="-1.36" y="0.00" font-size="26.00" fill="#000" stroke="#000" stroke-width="0.36" textLength="15.02" lengthAdjust="spacingAndGlyphs"><tspan>2</tspan></text><text x="12.27" y="-9.80" font-size="21.00" fill="#000" stroke="#000" stroke-width="0.29" textLength="61.51" lengthAdjust="spacingAndGlyphs"><tspan>−(ΔCT)</tspan></text><text x="80.90" y="0.00" font-size="26.00" fill="#000" stroke="#000" stroke-width="0.36" textLength="208.10" lengthAdjust="spacingAndGlyphs"><tspan>(relative to Hprt)</tspan></text></g></svg>
</body></html>
